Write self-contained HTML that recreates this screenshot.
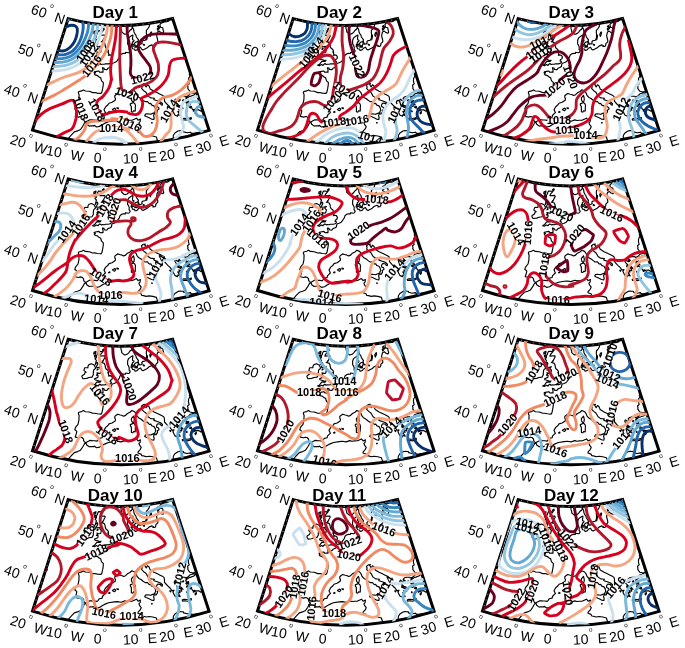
<!DOCTYPE html><html><head><meta charset="utf-8"><title>Daily SLP maps</title>
<style>html,body{margin:0;padding:0;background:#fff}svg{display:block}text{font-family:"Liberation Sans", Arial, Helvetica, sans-serif;fill:#000}.c path{fill:none;stroke-width:2.9;stroke-linecap:butt;stroke-linejoin:round}.cl text{font-weight:bold;font-size:11px;text-anchor:middle}.er path{stroke:#fff;stroke-width:3.4;fill:none}.co{fill:none;stroke:#000;stroke-width:1.15;stroke-linejoin:round}</style></head><body>
<svg width="685" height="648" viewBox="0 0 685 648">
<defs><clipPath id="fr"><path d="M68.2 18.6A200 200 0 0 0 172.6 18.5L209.1 130.4A287 287 0 0 1 32.5 130.1Z"/></clipPath>
<mask id="frm" maskUnits="userSpaceOnUse" x="0" y="0" width="240" height="170"><path d="M68.2 18.6A200 200 0 0 0 172.6 18.5L209.1 130.4A287 287 0 0 1 32.5 130.1Z" fill="none" stroke="#fff" stroke-width="4"/></mask>
<g id="coast" class="co"><path d="M91.5 43.1L94.1 44.3L95.3 46.5L95.4 47.8L93.7 49.2L93.3 52.1L93.3 54.1L92 56.4L88.9 56.8L86.7 57.7L83 58.1L81.9 56L82.1 55L84.4 53.6L85.2 51.6L86.2 51.4L83.8 49.7L84.8 47L87.9 47.1L88 45.4L89 43.9Z"/><path d="M98.6 30.6L103 30.9L100.5 33.8L99.9 35.4L104.8 35L105.2 36.3L104.4 37.5L103.3 39.9L102.6 40.2L103 40.9L101.3 41.8L104 42.4L105 44.2L105.3 46.3L105.9 48L107.5 49.3L108.2 50.2L108.6 52.3L107.8 51.8L108.9 54.4L108.4 55.3L109.4 54.9L111.4 55.2L112.4 57L112 58.6L110.4 59.8L110.1 61L111.3 61.4L111.3 62.5L110.1 63.4L108.3 63.9L105.6 63.8L104.2 64.3L102.4 64.2L101.2 64.5L99.9 63.5L98.5 64.6L98 65.4L96.6 64.6L94.3 65.8L92.6 65.3L94.6 64.2L96 62.3L97 61.2L100.1 61.5L101 60.3L99.7 60.6L97.7 59.8L95 59.1L94.6 58L97.8 56.7L98 55.9L98 54.3L96.4 54.5L97.5 53.4L97 52.1L98.9 52.7L100.7 52.5L101.1 50.5L101.5 49.5L99.9 47.9L100.6 46.3L101.4 46.2L100.1 46.4L98.1 46.8L96.8 46.9L96.6 45.4L97.8 43.5L97.5 41.8L96.6 42.1L95.3 44L96 41.2L96.4 39.6L95 38.1L96.3 37L96.3 35.3L97.4 33.4L97.8 32Z"/><path d="M96 30.7L95.7 32.7L93.8 33.3L93.9 31.6Z"/><path d="M95.3 34L96.4 36.2L94.8 36.4L94.3 34.9Z"/><path d="M102.5 29.3L103.9 28.2L104.2 29.5L103.1 30.2Z"/><path d="M98 48.1L98.1 48.9L97 49.4L97.2 48.6Z"/><path d="M120.8 24.7L120.8 26L121.1 28.9L121.7 30.6L121.7 31.9L124 33.9L125 34.3L127.1 33.6L128.7 32.1L130.4 29.9L131.6 29.4L132.2 27.7L132.2 26L132.6 27.6L133.6 29.2L134 32.1L135.1 34.2L135.8 34.9L136.4 37L137.8 38.9L138.5 39.9L138 41L138.5 42.2L139.2 43.8L139 44.3L141.1 43.9L142.2 43.2L141.8 41.8L142.8 40.7L144.9 40.4L145.7 39.7L146.4 37.9L146.6 34.5L146.3 32.8L146.4 30.3L147.7 28.8L148.4 27.9L149.4 26L149.7 24.2L149.2 22.2"/><path d="M146.7 39.9L147 37.4L147.5 35L147.4 36.9Z"/><path d="M150.3 36.4L151.3 34.2L151.6 32L150.7 32.4L149.7 34.4Z"/><path d="M143.2 44.2L144.4 44.6L144.3 45.3L143.3 45Z"/><path d="M131.7 44.4L133.8 44.3L134.2 45.9L132.5 46.2Z"/><path d="M134.4 43.4L136 42L138 41.6L138.2 43.5L137.4 45.2L137 46.3L135.1 45.4Z"/><path d="M134.7 47.1L137.1 47.3L137.5 46.4L135.9 46.4Z"/><path d="M157.8 30.3L160 27.3L158.5 27.4L157.2 28.8Z"/><path d="M157.4 26.6L159.2 26.4L158.3 25.5Z"/><path d="M156.8 20.7L158.3 22.4L158.8 20.2"/><path d="M170.9 16.9L170.3 18.4L168.7 19.8L168.9 21L166.9 21.8L164.3 21.9L162.3 22.8L160.7 23.6L159.9 24.7L160.5 27.2L162.8 27.7L163 29.6L163.7 32L163 33.2L161 32.6L159.3 31.1L157.5 32.1L157.1 33.5L156.6 35.7L157.3 38.5L157.7 40.1L157.8 41.8L155.8 43.7L155.8 45.1L154.9 46.4L152.9 46.5L153.3 45.6L151.9 44.9L149 46.1L147.3 47.8L143.9 49.5L143 50L141.7 49.3L140.5 47.2L138.4 48.2L137.6 49.5L136.2 50.3L135 50.4L134.6 49L132.4 48.7L132.1 47.3L131.1 46.5L131.5 44.4L132.1 44L132.5 41.9L133.6 41.6L134 40.3L132.6 39.8L132.5 38.3L132.8 36.4L132.9 35L131.4 35.7L128.6 37.9L127.7 40L127.6 42.5L127.7 44.2L128.4 45L129.2 47L129.1 49.5L129.9 50.3L130.2 51.1L129 52.6L128.3 52.8L125.6 52.3L125.4 53.5L123.4 53.4L121.5 54L120 55.3L119.3 57.5L118.2 59.1L117 60.8L116.2 61.8L114.1 62.8L112.3 63.3L111.7 64.3L111.5 66.3L110.3 67.3L107.9 68.2L107.6 69L106.5 69.8L104.4 69.4L104 68L102.4 67.7L103 69.9L103 72.2L101.8 72.1L99.9 72.3L98.9 71L96.7 71.4L94.3 71.9L94.1 72.5L95.5 72.9L94.3 73.8L95.1 74.9L97.6 75.6L98.4 76.5L99.9 77.4L100.7 77.7L101.1 79.6L101.6 80.8L103.3 82.4L103.3 84.6L102.7 88.4L101.9 92.2L101 93.4L100.6 93.4L97.4 93.1L94.7 92.5L92.7 92.6L89.3 91.3L85.4 91L83.5 89.9L81.6 90.9L78.8 91.6L78.3 92.6L79.1 94.8L79 96.8L78.9 99.7L78 103.6L75.5 106.7L74.8 109L75.7 109.6L76.8 110.7L76.4 112.7L75.2 116.4L78.7 117.1L80.4 116.5L82 116.8L83.6 118.5L83.6 119.8L84.4 121.2L85.6 122.1L86.5 121.6L89.9 119.7L92.5 119.9L94.8 120L97.1 120.4L98.2 119.3L99.3 117.7L102.2 117.1L102.4 115.5L104.4 113.4L105.4 112.6L104 109.7L105.7 106.7L108 104.8L109 103.2L112.1 102.3L115.2 100.2L115.5 98.6L114.8 97.5L114.8 95.7L116.2 94.5L117.7 93.5L120.2 94.3L121.7 94.5L123.6 95.5L125.6 94.7L127.4 92.8L130 91.5L131.9 89.8L134.6 91L136.2 93.2L137.1 95.5L138.9 97.4L141.1 98.5L142.8 100L145.1 101.6L147.5 101.5L148.6 103L149.8 103.7L150.8 103.4L151.7 105.1L154 105.9L155.2 107.9L155.8 110.3L155 111.3L154.8 113.3L154.9 114L156.2 113.9L157.5 111.7L157.4 110.1L159 109L158.6 107.4L156.6 106.5L156.6 104.9L157.4 103.3L158.4 103.1L160.6 103.6L161.1 104.8L162.2 105.2L162.5 103.7L160.6 102L157.3 100.8L154 99.7L153.7 99.1L154.4 98.2L152.3 98L150.7 97.9L148.1 96.1L145.9 92.3L143.7 90.7L141.7 88.7L142.1 86.8L141.4 85.4L143.5 83.8L145.4 83.6L144.7 84.5L146.2 87L147.4 84.8L148.9 85.8L150.2 88.9L154.1 91.3L157.9 93.1L159.6 93.9L162.9 95.6L164 96.4L164.5 98.6L164.5 101.3L166.9 104L168.1 105.2L170.3 107.2L171.9 109.6L174 109.2L172.9 111.1L174.3 113.9L175.1 115.2L177.5 116.2L177.9 114.6L180.2 115.6L179 113.5L177.8 111.5L180.1 111.6L178.8 109.6L181.8 110.2L181.1 108L178.5 106.9L176.7 106.3L177 104.4L178.2 104.7L175.5 102.2L174.7 100.1L175.6 99.2L177 100.6L178.6 101.3L178.2 99.9L179.4 101.1L178.9 99.5L180.4 100L178.1 98.2L179.6 96.8L182 96.2L184.6 96.2L185.4 97L187.2 96.3L186 99L186.7 97.1L188.5 95.5L190 93.8L192 93.2L193.2 92.9L193.3 92L189.9 91.3L188.8 89.9L187.7 88.2L188 87.2L187.5 85.3L189.2 83.9L188.7 82.3L188.4 80.7L188.7 78.1L190.1 76L189.3 74.5L190.9 72.7"/><path d="M196.8 91.1L193.3 92L193.2 92.9L196.1 93L193.9 95L190.9 96.1L188.9 96.7L187.3 98L186.4 98.4L185.9 99.4L186.3 101.4L188.7 100.6L188.6 102.7L190.1 104.6L188.1 104.3L188.2 106L191.3 106.4L192 108.7L193 109.9L194.9 109.4L193.3 111.1L196 109.9L198.7 109.7L200.9 111.2L202.9 109.9"/><path d="M68 141.1L68.3 139.5L68.8 137.9L71 135.3L74.3 131.9L77.6 130.9L80.5 129.5L82.7 126.3L84 124L84.5 122.8L86.2 122.6L86.7 124.3L89.2 126.1L90.9 125.8L93.9 125.9L94.2 125.3L96.5 127L99.6 126.4L102.1 124.7L104.5 123.4L108.5 121.8L114.3 120.9L117.4 120.6L121 121.2L124.9 119.9L126.9 120.5L129.7 120.2L132.5 120.1L136.5 118.2L138.1 120.2L140.4 119.1L140.1 121.7L138.9 122.8L139.5 124.4L141.2 126.7L140.2 128.9L138.1 131.1L138 132.3L141 133.4L141.8 135L143.6 135.2L146.1 136L149.2 135.5L152.8 136L156.4 137L157.3 140L158.7 141.1L161.8 142.3"/><path d="M174.2 140.7L173.9 139L173.2 137.5L173.4 135.3L174.9 133.1L178 131L180.1 130.6L181.7 130.8L183.4 130.9L183.6 131.9L187.1 132.8L190.5 132.2L191.4 133.4L194.4 133.1L198.7 132.5L201.4 132.9L203.8 133.4"/><path d="M112.4 109.5L114.7 108.1L115.8 109.1L114.7 110.7L113.4 110.3Z"/><path d="M116.9 107.7L118.5 108.1L118.2 108.7L117.1 108.3Z"/><path d="M108.6 112L109.8 111.4L109.9 112.2L108.9 112.4Z"/><path d="M131.4 97.9L133.5 95.4L133.9 96.8L134.3 99L134 101L133.4 102L132.2 101.3L131.5 99.7Z"/><path d="M130.3 103.9L133.5 102.5L134.9 103.8L135.5 105.4L135.3 107.5L135.3 110.3L135.1 111.2L133.6 110.8L132.9 112.1L131.4 111.8L131.4 109.7L131.4 108.1L131.2 106.1L130.4 105.3Z"/><path d="M144.7 115.7L145.5 114.1L147.4 113.8L150.6 114.3L152.7 113.4L154.6 112.7L153.6 115.6L154.2 117.8L153.8 119.5L151.5 119.1L148.6 117.6L146.2 116.5Z"/><path d="M182.2 119.1L183.9 118.3L187.4 118.5L189.6 118.1L191.3 117.6L191.3 118.9L187.5 120.2L185.3 119.8L182.6 120.1Z"/><path d="M177.3 106L178.5 105.3L181 106.1L183.1 108.3L181.7 107.9L179.5 107.1Z"/><path d="M185.8 102.6L187.2 101.4L188.2 102.6L186.8 103.2Z"/><path d="M186.6 105.1L187.4 104.9L187.6 106.3L186.9 106.3Z"/><path d="M189.6 107.5L191 107.3L190.4 107.9Z"/><path d="M194.9 113L196.3 111.3L196.3 113L195.5 113.9Z"/><path d="M182.4 100.3L183.7 99.8L183.6 100.6L182.7 100.9Z"/><path d="M186.5 110.9L187.2 111.1L187 111.8L186.5 111.5Z"/><path d="M169.7 109.9L171 109.8L170.5 110.9Z"/><path d="M151.5 122.6L152.4 122.7L151.9 123.1Z"/></g>
<g id="ticks"><text transform="translate(27.4 149.1) rotate(17.3)" x="0" text-anchor="middle" font-size="14">20<tspan dy="-12" dx="1" font-size="6.5">o</tspan><tspan dy="12" dx="0.6"> W</tspan></text><text transform="translate(64.2 158.2) rotate(10.4)" x="0" text-anchor="middle" font-size="14">10<tspan dy="-12" dx="1" font-size="6.5">o</tspan><tspan dy="12" dx="0.6"> W</tspan></text><text transform="translate(101.7 162.7) rotate(3.5)" x="-2" text-anchor="middle" font-size="14">0<tspan dy="-12" dx="1" font-size="6.5">o</tspan><tspan dy="12" dx="0.6"></tspan></text><text transform="translate(139.5 162.7) rotate(-3.5)" x="0.8" text-anchor="middle" font-size="14">10<tspan dy="-12" dx="1" font-size="6.5">o</tspan><tspan dy="12" dx="0.6"> E</tspan></text><text transform="translate(177 158.2) rotate(-10.4)" x="0" text-anchor="middle" font-size="14">20<tspan dy="-12" dx="1" font-size="6.5">o</tspan><tspan dy="12" dx="0.6"> E</tspan></text><text transform="translate(213.8 149.1) rotate(-17.3)" x="0" text-anchor="middle" font-size="14">30<tspan dy="-12" dx="1" font-size="6.5">o</tspan><tspan dy="12" dx="0.6"> E</tspan></text><text transform="translate(63 24.5) rotate(19)" text-anchor="end" font-size="14">60<tspan dy="-12" dx="1" font-size="6.5">o</tspan><tspan dy="12" dx="0.6"> N</tspan></text><text transform="translate(49.8 63.9) rotate(19)" text-anchor="end" font-size="14">50<tspan dy="-12" dx="1" font-size="6.5">o</tspan><tspan dy="12" dx="0.6"> N</tspan></text><text transform="translate(36 104) rotate(19)" text-anchor="end" font-size="14">40<tspan dy="-12" dx="1" font-size="6.5">o</tspan><tspan dy="12" dx="0.6"> N</tspan></text></g>
<g id="frame"><path d="M68.2 18.6A200 200 0 0 0 172.6 18.5L209.1 130.4A287 287 0 0 1 32.5 130.1Z" fill="none" stroke="#000" stroke-width="3" stroke-linejoin="miter"/><path d="M68.2 18.6A200 200 0 0 0 172.6 18.5" fill="none" stroke="#fff" stroke-width="0.7" stroke-dasharray="0.9 5.1" stroke-dashoffset="-3"/><path d="M68.2 18.6L32.5 130.1" fill="none" stroke="#fff" stroke-width="0.7" stroke-dasharray="0.9 5.1" stroke-dashoffset="-3"/></g>
</defs>
<rect width="685" height="648" fill="#fff"/>
<g transform="translate(0 0)">
<use href="#ticks"/>
<text x="115.2" y="17.5" text-anchor="middle" font-weight="bold" font-size="17">Day 1</text>
<g clip-path="url(#fr)">
<use href="#coast"/>
<g class="c" id="c1"><path stroke="#08306b" d="M64.5 27.2C65.6 26.9 69.2 25.5 71.1 25.3C72.9 25.1 74.4 25.4 75.4 26C76.5 26.6 77.1 27.5 77.3 29.1C77.6 30.6 77.2 33.2 76.8 35.2C76.3 37.3 75.5 39.5 74.6 41.3C73.6 43.2 72.4 44.8 71.1 46.2C69.8 47.5 68.1 48.9 66.7 49.7C65.2 50.5 63.9 50.9 62.3 51C60.7 51 58 50.1 57.2 50"/><path stroke="#2166ac" d="M82.9 20.8C82.9 22 83.3 25.7 83.2 28.1C83 30.4 82.6 32.7 82 35.1C81.4 37.4 80.5 39.9 79.4 42.1C78.3 44.3 77 46.5 75.4 48.2C73.9 50 72.1 51.5 70.2 52.6C68.3 53.7 66.5 54.4 64.1 54.8C61.6 55.1 57.1 54.8 55.7 54.8"/><path stroke="#3587c4" d="M88.9 21.9C88.7 23.4 88.4 28.1 87.9 30.7C87.3 33.3 86.5 35.4 85.5 37.7C84.5 40 83.4 42.5 82 44.7C80.6 46.9 79 49.2 77.2 51.1C75.4 53 73.3 54.9 71.1 56.1C68.9 57.3 66.8 58 64.1 58.4C61.3 58.9 56.3 58.7 54.7 58.7"/><path stroke="#62a8d3" d="M93.5 22.9C93.3 24.5 92.6 29.5 91.8 32.4C91 35.3 89.8 37.8 88.6 40.3C87.3 42.9 85.8 45.3 84.2 47.6C82.6 49.9 81 52.1 78.9 54C76.9 56 74.4 58 71.9 59.3C69.5 60.6 67.1 61.4 64.1 61.9C61 62.5 55.5 62.4 53.8 62.5"/><path stroke="#92c5e0" d="M98.2 23.7C97.8 25.4 96.9 31.1 95.9 34.2C94.9 37.3 93.7 39.7 92.2 42.4C90.8 45 89.1 47.8 87.3 50.2C85.4 52.7 83.5 54.9 81.1 57C78.8 59.1 76.1 61.3 73.3 62.8C70.4 64.3 67.5 65.1 64.1 65.7C60.7 66.4 54.7 66.6 52.8 66.7"/><path stroke="#c9e0ef" d="M102.6 24.4C102.2 26.3 101.2 32.2 100.1 35.5C99 38.8 97.7 41.3 96.2 44.1C94.6 46.9 93 49.7 90.9 52.3C88.9 54.9 86.6 57.5 83.9 59.9C81.3 62.2 78.2 64.7 75 66.3C71.8 68 68.4 69 64.5 69.8C60.6 70.6 53.5 70.9 51.4 71.1"/><path stroke="#3587c4" d="M66.2 20L69.6 19.3"/><path stroke="#f4a582" d="M107.7 25.1C107.5 26.6 107.1 31 106.4 33.9C105.7 36.8 104.6 39.7 103.5 42.7C102.4 45.6 101.3 48.6 99.8 51.4C98.4 54.2 96.7 57 94.7 59.4C92.8 61.9 90.7 64.2 88.1 66.3C85.6 68.4 82.3 70.7 79.4 72.1C76.5 73.6 73.5 74.1 70.6 75.1C67.7 76 64.5 76.9 61.9 78C59.2 79 57.3 80.1 54.6 81.3C51.8 82.6 47 84.6 45.5 85.3"/><path stroke="#ef8a62" d="M112.1 25.1C111.9 26.8 111.6 32.2 111.1 35.4C110.5 38.5 109.7 41.3 108.7 44.1C107.8 46.9 106.8 49.6 105.5 52.1C104.3 54.7 102.8 57.1 101.1 59.4C99.5 61.8 97.7 64 95.6 66.3C93.5 68.6 91.2 71.2 88.7 73.3C86.2 75.5 83.5 77.3 80.7 79.2C77.9 81.1 74.9 82.9 71.9 84.7C69 86.5 66.3 88.2 63.2 90.1C60 92 56.8 94 53 95.9C49.2 97.9 42.5 100.8 40.4 101.8"/><path stroke="#d6001f" d="M116.5 25.1C116.3 27.1 116.2 32.9 115.7 36.8C115.3 40.7 114.4 44.8 113.7 48.5C113 52.1 112.2 55.1 111.6 58.7C111.1 62.4 110.6 66.7 110.6 70.4C110.6 74 111.5 78.9 111.6 80.6"/><path stroke="#d6001f" d="M111.5 77.9C111.3 79.1 110.7 83.1 110 85.2C109.4 87.3 108.8 88.4 107.6 90.3C106.3 92.3 104.1 95.2 102.5 96.9C100.8 98.6 98.8 99.2 97.8 100.5C96.8 101.9 96.4 103 96.6 104.9C96.8 106.9 97.6 110.5 98.8 112.2C100 113.9 102.1 114.8 103.9 114.8C105.7 114.9 107.3 113.3 109.8 112.6C112.2 112 115.5 111.3 118.5 111.2C121.6 111.1 126.4 112 128 112.2"/><path stroke="#d6001f" d="M128.1 112.2C128.3 112.4 128.1 113.3 129.5 113.7C131 114 134.9 115 136.8 114.4C138.8 113.8 140.2 112 141.2 110C142.2 108.1 142.7 104.6 142.7 102.7C142.7 100.8 140.5 99.8 141.2 98.6C141.9 97.4 144.6 96.8 147 95.4C149.5 94 153.1 92.3 155.8 90.3C158.5 88.4 161 86.3 163.1 83.7C165.2 81.2 167.1 78.1 168.2 75C169.3 71.8 169 67.2 169.7 64.8C170.3 62.3 170.8 61.4 172.1 60.4C173.5 59.4 175.1 59 177.7 58.6C180.3 58.2 186.2 58.1 187.9 58"/><path stroke="#d6001f" d="M33.1 123.2C34.4 121.7 38.3 116.8 41.1 114.4C43.9 112 46.5 110.3 49.9 108.6C53.3 106.9 57.9 105.6 61.6 104.2C65.2 102.8 69.6 100.1 71.8 100.1C74 100.1 74.2 101.8 75 104.2C75.8 106.6 76.7 111.2 76.6 114.4C76.6 117.6 75.5 120.7 74.7 123.2C73.9 125.6 73.5 127.4 71.8 129C70.1 130.6 67.2 131.3 64.5 132.6C61.8 134 57.2 136.4 55.7 137.2"/><path stroke="#b2182b" d="M120.4 24.4C120.4 27.2 120.3 36 120.1 41.2C120 46.4 119.7 50.9 119.7 55.8C119.7 60.7 120 66 120.1 70.4C120.3 74.8 120.4 78.8 120.7 82.1C121.1 85.4 120.8 88.2 122.2 90.1C123.6 92 127.1 94.1 129.2 93.8C131.3 93.4 132.6 89.4 135 87.9C137.5 86.5 140.9 86.2 143.8 85C146.7 83.8 150.2 82.3 152.6 80.6C154.9 78.9 156.7 77.5 157.7 74.8C158.6 72.1 158.8 67.7 158.4 64.6C158 61.4 156.3 58.5 155.5 55.8C154.6 53.1 153.2 50.6 153.3 48.5C153.4 46.4 154.6 44.5 156.2 43.4C157.8 42.3 160.2 42 162.8 41.9C165.3 41.9 168.1 42.3 171.5 42.9C174.9 43.6 181.3 45.1 183.2 45.6"/><path stroke="#67001f" d="M127 24.4C127.1 26 127.1 30.6 127.4 33.9C127.8 37.2 128.7 40.7 129.2 44.1C129.7 47.5 130.4 50.9 130.7 54.3C130.9 57.7 131 61.4 130.9 64.6C130.9 67.7 130 71.2 130.4 73.3C130.7 75.4 130.9 76.1 132.8 77C134.8 77.8 139.5 78.8 142.3 78.4C145.1 78.1 148.3 76.6 149.6 74.8C151 72.9 150.9 69.7 150.4 67.5C149.9 65.3 148.1 63.6 146.7 61.6C145.4 59.7 143.7 57.7 142.3 55.8C141 53.8 139.3 51.8 138.7 50C138.1 48.1 138.2 46.5 138.7 44.8C139.2 43.1 140 41.3 141.6 39.7C143.2 38.2 145.6 36.3 148.2 35.4C150.7 34.4 153.8 34.1 156.9 33.9C160.1 33.7 163 33.8 167.2 33.9C171.3 34 179.3 34.3 181.8 34.3"/><path stroke="#ef8a62" d="M193.8 73.5C192.8 75.1 190.1 80.2 187.9 83C185.7 85.8 183.3 88.2 180.6 90.3C177.9 92.4 174.8 94.2 171.9 95.4C168.9 96.6 165.3 96.6 163.1 97.6C160.9 98.6 159.9 99.7 158.7 101.3C157.5 102.8 156.2 104.9 155.8 107.1C155.4 109.3 156.3 112 156.5 114.4C156.8 116.8 157.5 119 157.3 121.7C157 124.4 156.2 128.1 155.1 130.5C153.9 132.8 152.1 134.6 150.2 135.6C148.4 136.5 145.6 136.7 143.8 136C142 135.3 141.1 132.8 139.4 131.2C137.8 129.5 136 127.5 133.9 126.1C131.8 124.6 129.3 123.6 126.6 122.4C123.9 121.3 120.5 119.8 117.8 119.2C115.2 118.6 111.8 118.8 110.5 118.8"/><path stroke="#ef8a62" d="M128 118.8C126.4 119 122 120 118.5 120.2C115 120.5 110.2 120.1 106.8 120.2C103.4 120.4 100.7 120.7 98.1 121C95.4 121.2 92.7 121.1 90.8 121.7C88.8 122.3 87.5 123.2 86.4 124.6C85.3 126.1 85.4 128.4 84.2 130.5C83 132.5 81 135.1 79.1 137C77.1 139 73.6 141.3 72.5 142.1"/><path stroke="#f4a582" d="M198.1 90.3C196.9 90.7 193.3 91.7 190.8 92.5C188.4 93.3 185.7 94 183.5 95.1C181.3 96.2 179.3 97.4 177.7 99.1C176.1 100.7 175.1 102.4 174 104.9C172.9 107.5 171.6 111.1 171.1 114.4C170.6 117.7 171.4 121.9 171.1 124.6C170.9 127.3 170.8 128.5 169.7 130.5C168.6 132.4 166.3 134.1 164.6 136.3C162.9 138.5 160.3 142.4 159.4 143.6"/><path stroke="#f4a582" d="M130.2 129.7C129 129.4 125.3 128.1 122.9 127.8C120.5 127.5 117.8 127.8 115.6 127.8C113.4 127.9 112.7 127.8 109.8 128.3C106.8 128.7 101 129.4 98.1 130.5C95.2 131.5 94.3 132.9 92.2 134.8C90.2 136.8 86.8 140.9 85.7 142.1"/><path stroke="#f4a582" d="M111.3 127.8C113.3 128 120.4 127.8 123.7 129C127 130.2 129 133 131 134.8C132.9 136.7 133.9 138.1 135.4 139.9C136.8 141.8 139 144.8 139.7 145.8"/><path stroke="#c9e0ef" d="M92.2 143.6C93.7 142.7 98.1 139.5 101 138.5C103.9 137.5 106.8 137.5 109.8 137.5C112.7 137.5 115.6 137.6 118.5 138.5C121.4 139.4 125.8 142.1 127.3 142.9"/><path stroke="#c9e0ef" d="M110.5 136.6C112 137 116.5 137.8 119.3 139.2C122.1 140.6 126 144.1 127.3 145.1"/><path stroke="#c9e0ef" d="M199.6 95.7C198.3 96.1 194.1 97.4 191.6 98.3C189 99.3 186 100.1 184.3 101.5C182.6 103 182 105 181.3 107.1C180.7 109.2 180.4 112 180.6 114.4C180.8 116.8 181.9 119.5 182.4 121.7C182.9 123.9 183.8 125.6 183.5 127.5C183.2 129.5 182 131.5 180.6 133.4C179.3 135.2 176.8 137 175.5 138.5C174.2 139.9 173.1 141.5 172.6 142.1"/><path stroke="#92c5e0" d="M201.8 102.4C200.3 102.3 195.3 101 193 101.4C190.8 101.8 189.3 102.8 188.2 104.8C187.1 106.7 186.1 110.4 186.2 112.9C186.2 115.5 187 118 188.5 120.2C190 122.4 192.8 123.9 195.2 126.1C197.7 128.2 201.9 131.9 203.2 133.1"/><path stroke="#62a8d3" d="M203.2 106.1C202.3 106.2 199.1 105.8 197.8 106.8C196.6 107.8 195.6 110.4 195.6 111.9C195.7 113.4 196.5 114.9 198.1 115.9C199.8 116.8 204.2 117.3 205.4 117.6"/></g>
<g class="er"><path d="M79.5 60.5L92.7 41.7"/><path d="M82.7 65.2L95.9 46.4"/><path d="M85.2 75.4L99.3 57.2"/><path d="M76 97.9L84.6 119.2"/><path d="M90.9 99.9L101.7 120.2"/><path d="M131.5 81.4L153.7 75.4"/><path d="M116.1 90.9L137.9 98"/><path d="M118.4 119L139.2 128.7"/><path d="M99.7 128.7L122.7 128.7"/><path d="M163.5 121.1L175 101.2"/></g>
</g>
<use href="#frame"/>
<g clip-path="url(#fr)"><g mask="url(#frm)"><use href="#c1"/></g>
<g class="cl"><text transform="translate(86.1 51.1) rotate(-55)" y="3.3">1008</text><text transform="translate(89.3 55.8) rotate(-55)" y="3.3">1012</text><text transform="translate(92.2 66.3) rotate(-52)" y="3.3">1016</text><text transform="translate(80.3 108.6) rotate(68)" y="3.3">1018</text><text transform="translate(96.3 110) rotate(62)" y="3.3">1018</text><text transform="translate(142.6 78.4) rotate(-15)" y="3.3">1022</text><text transform="translate(127 94.5) rotate(18)" y="3.3">1020</text><text transform="translate(128.8 123.9) rotate(25)" y="3.3">1016</text><text transform="translate(111.2 128.7) rotate(0)" y="3.3">1014</text><text transform="translate(169.2 111.2) rotate(-60)" y="3.3">1014</text></g>
</g>
</g>
<g transform="translate(225 0)">
<use href="#ticks"/>
<text x="114.3" y="17.5" text-anchor="middle" font-weight="bold" font-size="17">Day 2</text>
<g clip-path="url(#fr)">
<use href="#coast"/>
<g class="c" id="c2"><path stroke="#08306b" d="M82.3 20C82.3 21.4 82.7 25.9 82.3 28.1C81.9 30.2 81.1 31.8 79.8 33.2C78.6 34.5 76.5 35.5 74.7 36.1C72.9 36.6 70.7 36.9 68.9 36.5C67.1 36.2 65.1 34.6 63.8 33.9C62.4 33.2 61.3 32.4 60.8 32.1"/><path stroke="#2166ac" d="M87.3 21.1C87.1 22.5 87 27.1 86.4 29.5C85.8 31.9 84.8 33.7 83.5 35.4C82.1 37.1 80.3 38.7 78.4 39.7C76.4 40.8 74 41.2 71.8 41.5C69.6 41.7 67.3 41.5 65.2 41.2C63.2 40.9 60.4 40 59.4 39.7"/><path stroke="#3587c4" d="M90.9 21.9C90.7 23.4 90.4 28.4 89.6 31C88.9 33.6 87.9 35.6 86.4 37.5C84.9 39.5 82.7 41.4 80.6 42.7C78.4 43.9 75.8 44.7 73.3 45.3C70.7 45.8 67.8 45.9 65.2 45.9C62.7 45.8 59.1 45.1 57.9 45"/><path stroke="#62a8d3" d="M94.6 22.7C94.3 24.3 93.9 29.6 93 32.4C92 35.3 90.7 37.5 89 39.7C87.3 41.9 85.1 44.1 82.7 45.6C80.4 47.1 77.5 48 74.7 48.8C71.9 49.6 69 50 66 50.2C62.9 50.5 58 50.2 56.5 50.2"/><path stroke="#92c5e0" d="M97.9 23.4C97.6 25.1 97 30.8 95.9 33.9C94.8 37 93.3 39.5 91.5 41.9C89.7 44.3 87.5 46.5 84.9 48.2C82.4 49.9 79.2 51.1 76.2 52.1C73.1 53.2 70.2 53.9 66.7 54.3C63.2 54.8 57 54.8 55 54.9"/><path stroke="#c9e0ef" d="M101.1 24C100.7 25.9 99.9 32 98.8 35.4C97.7 38.7 96.4 41.6 94.4 44.1C92.5 46.7 89.9 48.8 87.1 50.7C84.3 52.6 80.9 54.2 77.6 55.5C74.4 56.8 71.4 57.7 67.4 58.4C63.4 59.1 55.9 59.5 53.5 59.7"/><path stroke="#f4a582" d="M106.5 23.7C106.1 25.4 105 31.1 103.9 33.9C102.9 36.7 101.8 38.3 100.3 40.5C98.7 42.7 96.7 44.5 94.4 47C92.1 49.6 89.4 53.2 86.4 55.8C83.4 58.4 79.6 59.9 76.2 62.4C72.8 64.8 69.4 67.7 66 70.4C62.5 73.1 59.4 75.5 55.7 78.4C52.1 81.3 46 86.3 44.1 87.9"/><path stroke="#d6001f" d="M111.6 24C111.1 26.1 110 33.1 108.6 36.8C107.1 40.5 105.1 43.4 103 46.3C100.9 49.2 99 51.5 96 54.3C93 57.1 88.7 60.2 84.9 63.1C81.2 66 77.4 68.7 73.5 71.9C69.7 75 65.6 78.7 61.9 81.8C58.2 84.9 54.9 87.6 51.4 90.5C47.8 93.5 42.2 98.1 40.4 99.6"/><path stroke="#b2182b" d="M101 55.3C102.7 55.1 104.6 54.9 106.1 56C107.6 57.1 108.9 59.3 109.8 61.7C110.6 64.1 111.3 67.3 111.4 70.5C111.5 73.6 110.8 77.3 110.3 80.7C109.8 84.1 108.9 87.7 108.3 90.9C107.7 94.1 107.7 97.4 106.8 99.8C106 102.2 104.5 104.4 103.2 105.3C101.8 106.3 100.6 105.9 98.8 105.3C97 104.8 94.7 102.4 92.2 101.8C89.8 101.3 86.5 101.6 84.2 102.1C81.9 102.7 79.8 103.8 78.2 105.1C76.6 106.3 75.6 108 74.7 109.7C73.8 111.5 73.6 113.6 73 115.6C72.3 117.5 71.7 119.6 70.6 121.4C69.6 123.2 68.2 124.8 66.5 126.1C64.9 127.3 63 128.1 60.7 129C58.4 129.9 55.3 130.5 52.5 131.3C49.8 132.1 46.6 133.7 44.4 133.7C42.1 133.7 40.2 132.6 39.1 131.3C38 130.1 37.6 128.1 37.9 126.1C38.2 124 39.6 121.6 40.8 119.1C42.1 116.5 43.8 113.8 45.5 110.9C47.3 108 49.2 104.5 51.4 101.5C53.5 98.6 55.8 96.1 58.4 93.4C60.9 90.6 63.8 87.9 66.5 85.2C69.3 82.5 72.1 79.7 74.7 77C77.3 74.3 79.6 71.4 82 68.8C84.4 66.3 87 63.8 89.3 61.8C91.6 59.9 93.9 58.3 95.9 57.2C97.8 56.1 99.3 55.5 101 55.3Z"/><path stroke="#67001f" d="M89.3 73.5C89.8 73.1 94 72.6 94.4 72.8C94.9 73 95.9 75.8 95.9 76.4C95.8 77.1 94.1 82.4 93.7 83C93.3 83.6 90.5 85.8 90 85.9C89.6 86 86.6 85 86.4 84.5C86.2 84 86.9 79.4 87.1 78.6C87.3 77.9 88.8 73.9 89.3 73.5Z"/><path stroke="#b2182b" d="M117.5 23.7C117.5 26.6 116.9 35.8 117.1 41.2C117.3 46.5 118.4 51.4 118.6 55.8C118.7 60.2 118.3 64.1 117.8 67.5C117.4 70.9 116.1 73.5 115.6 76.2C115.2 78.9 115.1 81.6 115.3 83.7C115.5 85.8 116.4 87.5 117.1 88.8C117.7 90.2 118.3 91.5 119.3 91.8C120.3 92.1 121.2 91.3 122.9 90.7C124.7 90.2 126.7 89.5 129.5 88.4C132.3 87.4 136.6 86.2 139.7 84.5C142.9 82.7 146.2 80.7 148.5 77.9C150.8 75.1 152.4 70.9 153.6 67.7C154.8 64.5 154.9 61.9 155.8 58.7C156.6 55.5 157.3 51.4 158.7 48.5C160.2 45.6 163 43.6 164.6 41.2C166.1 38.8 167.8 36.3 168.2 33.9C168.6 31.5 167.7 28.5 166.7 26.6C165.8 24.7 163.1 22.9 162.4 22.2"/><path stroke="#67001f" d="M125.1 24.4C124 26 123.9 30.6 124 33.9C124 37.2 124.7 40.8 125.4 44.1C126.2 47.4 127.5 50.7 128.4 53.6C129.2 56.5 130 58.8 130.4 61.6C130.8 64.4 130.3 68 130.7 70.4C131 72.8 131.5 75.1 132.4 76.2C133.3 77.4 134.7 77.5 136.1 77.4C137.4 77.3 139.3 76.7 140.5 75.5C141.7 74.3 142.6 72.9 143.4 70.4C144.2 67.8 144.4 63.6 145.3 60.2C146.1 56.8 147.4 53.4 148.5 50C149.6 46.5 151.3 42.9 152.1 39.7C153 36.6 154.2 32.9 153.8 31C153.3 29 151.8 29 149.2 28.1C146.6 27.2 141.3 26.2 138.3 25.6C135.2 25 133.2 24.7 131 24.6C128.8 24.4 126.3 22.9 125.1 24.4Z"/><path stroke="#d6001f" d="M184.3 44.8C182.4 45.8 176 48.9 173.3 50.7C170.6 52.5 169.5 53.5 168.2 55.8C166.9 58.1 166.4 61.6 165.3 64.6C164.2 67.5 163.2 70.4 161.6 73.3C160.1 76.2 158.2 79.4 155.8 82.1C153.4 84.7 150 87.1 147 89.4C144.1 91.7 140.7 93.9 138.3 95.9C135.8 97.9 134.1 99.6 132.4 101.3C130.7 103.1 130 104.6 128.1 106.4C126.1 108.2 122.9 110.6 120.8 112.2C118.6 113.8 116 114.6 114.9 116.1C113.9 117.7 115.5 120.3 114.4 121.4C113.4 122.5 111 122.6 108.6 122.8C106.1 123.1 102 123.1 99.8 122.8C97.6 122.6 96.9 122.5 95.4 121.1C94 119.7 92.7 115.5 91.1 114.4C89.4 113.2 86.9 112.9 85.5 114.1C84.1 115.3 83.2 119.6 82.6 121.4C82 123.1 82.4 123 81.7 124.6C81 126.2 80.3 129.3 78.4 131.2C76.5 133.1 73.3 134.8 70.3 136C67.4 137.2 62.4 138.2 60.8 138.6"/><path stroke="#f4a582" d="M187.2 55.3C185.8 57.3 181.2 64.2 179.2 67.7C177.1 71.2 176.2 73.6 174.8 76.4C173.3 79.2 172.6 82.2 170.4 84.5C168.2 86.8 164.6 88.4 161.6 90.3C158.7 92.3 155.2 94.1 152.9 96.1C150.6 98.2 149 100.2 147.8 102.7C146.5 105.3 146.3 108.9 145.6 111.5C144.8 114 144.4 116.6 143.4 118C142.3 119.5 141.1 119.4 139.2 119.9C137.3 120.5 135.3 120.9 131.9 121.4C128.5 121.9 122.2 122.4 118.8 123C115.4 123.6 114.4 124 111.5 125C108.6 126.1 104.7 127.7 101.3 129.4C97.9 131.1 94.7 132.8 91.1 135.3C87.4 137.7 81.3 142.6 79.4 144"/><path stroke="#c9e0ef" d="M190.8 67.7C189.9 69.4 186.7 74.6 185 77.9C183.3 81.2 182.3 84.6 180.6 87.4C178.9 90.2 177 92.6 174.8 94.7C172.6 96.8 169.7 98 167.5 99.8C165.3 101.6 163.2 103.2 161.6 105.6C160.1 108.1 158.5 111.5 158 114.4C157.5 117.3 158.2 120.2 158.7 123.2C159.2 126.1 160.8 129.4 160.9 131.9C161.1 134.4 159.9 136.2 159.6 138.2C159.3 140.1 159.1 142.7 159 143.6"/><path stroke="#c9e0ef" d="M89.6 144C91.3 142.6 96.4 137.6 99.8 135.3C103.2 132.9 106.9 131.4 110 130.1C113.2 128.9 115.9 128.3 118.8 128C121.7 127.6 125.1 127.7 127.6 128.2C130 128.8 130.5 129.5 133.4 131.2C136.3 132.8 140.9 136.5 144.8 138.2C148.7 139.9 153.8 140.2 156.8 141.4C159.7 142.6 161.6 144.8 162.6 145.5"/><path stroke="#92c5e0" d="M199.6 89.6C198.1 89.8 193.3 90.2 190.8 91C188.4 91.9 186.8 93.2 185 94.7C183.2 96.1 181.5 98 179.9 99.8C178.3 101.6 176.8 103.6 175.5 105.6C174.2 107.7 172.7 109.5 171.9 112.2C171 114.9 170.3 118.7 170.4 121.7C170.4 124.7 172.4 127 172.1 130.5C171.9 133.9 169.5 140.2 168.9 142.1"/><path stroke="#92c5e0" d="M98.4 145.2C99.8 143.9 104.2 139.3 107.1 137.4C110 135.5 113 134.5 115.9 133.8C118.8 133.1 122 132.7 124.6 133.1C127.3 133.4 130 134.8 131.9 136C133.9 137.2 134.9 138.7 136.3 140.4C137.8 142.1 140 145.2 140.7 146.2"/><path stroke="#62a8d3" d="M201.1 94.7C199.3 94.9 193.5 95.2 190.8 96.1C188.2 97.1 186.5 98.7 185 100.5C183.5 102.4 182.7 104.8 182.1 107.1C181.5 109.4 181.2 112 181.3 114.4C181.5 116.8 182.4 119.3 182.8 121.7C183.2 124.1 183.8 126 183.5 129C183.3 132 181.8 138.1 181.5 139.9"/><path stroke="#62a8d3" d="M104.9 145.8C106.5 144.7 111.4 141 114.4 139.6C117.5 138.2 120.6 137.4 123.2 137.4C125.7 137.4 127.7 138.2 129.7 139.6C131.8 141.1 134.6 145.1 135.6 146.2"/><path stroke="#2166ac" d="M203.2 99.8C201.5 99.9 195.7 99.6 193 100.4C190.3 101.1 188.5 102.6 187.2 104.2C185.8 105.8 185.2 107.8 184.8 110C184.5 112.2 184.7 115.2 185.3 117.3C185.9 119.4 187.2 120.7 188.6 122.4C190.1 124.1 191.8 125.5 193.8 127.5C195.7 129.6 199.2 133.6 200.3 134.8"/><path stroke="#3587c4" d="M112.2 146.6C113.3 145.8 116.7 142.3 118.8 141.4C120.9 140.5 122.8 140.2 124.6 141.1C126.5 142 128.9 146 129.7 146.9"/><path stroke="#08306b" d="M205.4 106.1C204 106.1 198.7 105.7 196.7 106.4C194.6 107 193.8 108.4 193 110C192.3 111.6 191.9 114 192.3 115.9C192.7 117.7 193.8 119.6 195.2 121C196.7 122.3 198.4 123.2 201.1 123.9C203.7 124.6 209.6 125.1 211.3 125.3"/></g>
<g class="er"><path d="M81.6 57L96.4 39.4"/><path d="M76.8 66.4L91.6 48.7"/><path d="M109.8 84.1L128.7 97.3"/><path d="M100.9 110.6L115.1 92.5"/><path d="M97.5 124.3L120.3 121.1"/><path d="M120.6 122.9L143.3 119"/><path d="M133.8 134.8L155.8 141.5"/><path d="M166.3 121.9L176 101.1"/><path d="M126.8 55.6L136.6 76.4"/></g>
</g>
<use href="#frame"/>
<g clip-path="url(#fr)"><g mask="url(#frm)"><use href="#c2"/></g>
<g class="cl"><text transform="translate(89 48.2) rotate(-50)" y="3.3">1014</text><text transform="translate(84.2 57.5) rotate(-50)" y="3.3">1016</text><text transform="translate(119.2 90.7) rotate(35)" y="3.3">1020</text><text transform="translate(108 101.5) rotate(-52)" y="3.3">1020</text><text transform="translate(108.9 122.7) rotate(-8)" y="3.3">1018</text><text transform="translate(131.9 120.9) rotate(-10)" y="3.3">1016</text><text transform="translate(144.8 138.2) rotate(17)" y="3.3">1014</text><text transform="translate(171.1 111.5) rotate(-65)" y="3.3">1012</text><text transform="translate(131.7 66) rotate(65)" y="3.3">1022</text></g>
</g>
</g>
<g transform="translate(450 0)">
<use href="#ticks"/>
<text x="121.3" y="17.5" text-anchor="middle" font-weight="bold" font-size="17">Day 3</text>
<g clip-path="url(#fr)">
<use href="#coast"/>
<g class="c" id="c3"><path stroke="#2166ac" d="M76.9 20.5C77.8 20.8 80.3 22.3 82 22.5C83.7 22.7 86.3 21.8 87.1 21.6"/><path stroke="#62a8d3" d="M66.2 20C66.9 20.9 68.4 24 70 25.4C71.7 26.9 73.8 28.2 76.2 28.8C78.5 29.4 81.8 29.5 84.2 29.2C86.6 29 88.8 28.2 90.8 27.3C92.8 26.5 94.9 24.9 96.3 24C97.8 23.1 99 22.3 99.5 21.9"/><path stroke="#92c5e0" d="M63.8 28.8C64.9 29.4 68 31.5 70.3 32.4C72.6 33.4 75.2 34.4 77.6 34.6C80.1 34.9 82.5 34.5 84.9 33.9C87.4 33.3 90 32.1 92.2 31C94.4 29.9 96.4 28.5 98.1 27.3C99.8 26.2 101.7 24.5 102.5 24"/><path stroke="#c9e0ef" d="M61.6 36.5C62.8 36.9 66.4 38.5 68.9 39C71.3 39.5 73.5 39.9 76.2 39.7C78.9 39.6 82.3 39 84.9 38.3C87.6 37.5 89.8 36.7 92.2 35.4C94.7 34 97.2 32 99.5 30.2C101.8 28.5 105 25.7 106.1 24.8"/><path stroke="#f4a582" d="M59.4 42.9C60.5 43.5 63.6 45.6 66 46.3C68.3 47 70.8 47.3 73.3 47C75.7 46.8 77.9 46.1 80.6 44.8C83.2 43.6 85.9 41.8 89.3 39.7C92.7 37.7 98.1 34.4 101 32.4C103.9 30.5 104.9 29.4 106.8 28.1C108.8 26.7 111.7 25 112.7 24.4"/><path stroke="#f4a582" d="M49.6 67.5C50 68.2 52.2 70.4 52.2 71.9C52.3 73.3 50.3 75.5 49.9 76.2"/><path stroke="#d6001f" d="M120 24.8C118.8 25.7 115.3 28.4 112.7 30.2C110 32.1 107.3 33.7 103.9 36.1C100.5 38.5 96.9 41.3 92.2 44.8C87.6 48.4 80.3 54 76.2 57.3C72 60.5 70.3 61.9 67.4 64.6C64.5 67.2 61.3 70.5 58.7 73.3C56 76.1 53.8 78.8 51.4 81.3C48.9 83.9 45.3 87.4 44.1 88.6"/><path stroke="#b2182b" d="M127.3 24.4C126.7 25.7 125.2 30.4 123.6 32.4C122 34.5 120.6 35.1 117.8 36.8C115 38.5 110.4 40.3 106.8 42.7C103.3 45 100 47.5 96.6 50.7C93.2 53.8 89.6 58.4 86.4 61.6C83.2 64.9 80.8 67.7 77.6 70.4C74.5 73.1 70.8 75.3 67.4 77.7C64 80.1 60.4 82.6 57.2 85C54 87.4 51.4 89.8 48.4 92.3C45.5 94.8 41.1 98.7 39.7 100"/><path stroke="#67001f" d="M33.8 120.2C35.3 119.3 39.7 116.8 42.6 114.4C45.5 112 48.7 108.8 51.4 105.6C54 102.5 56.2 98.5 58.7 95.4C61.1 92.4 63 89.8 66 87.4C68.9 85 72.8 83.1 76.2 80.8C79.6 78.5 84.1 75.8 86.4 73.5C88.7 71.2 88.6 69.4 90 66.9C91.5 64.5 93.4 61.3 95.3 59.1C97.2 56.8 99.4 54.6 101.4 53.4C103.5 52.1 105.7 51.7 107.6 51.6C109.5 51.5 111.2 52 112.8 52.9C114.4 53.9 116.1 55.8 117.2 57.3C118.3 58.8 118.9 60.4 119.4 62.1C119.9 63.9 120.3 66 120.3 67.8C120.3 69.6 120.2 71.8 119.4 73.1C118.6 74.4 116.8 74.7 115.4 75.7C114.1 76.7 112.8 77.2 111.1 79.2C109.3 81.3 107.1 85.4 104.9 88C102.8 90.5 100.7 93.4 98.1 94.7C95.5 95.9 92 95.1 89.3 95.4C86.6 95.8 84.2 96 82 96.9C79.8 97.7 78.4 98.8 76.2 100.5C74 102.2 71.1 104.8 68.9 107.1C66.7 109.4 65 112 63 114.4C61.1 116.8 59.6 119.5 57.2 121.7C54.8 123.9 52.1 125.7 48.4 127.5C44.8 129.4 37.5 131.8 35.3 132.6"/><path stroke="#67001f" d="M149.2 22.2C147.9 22.9 143.5 25.1 141.2 26.6C138.9 28.1 136.8 28.5 135.4 31C133.9 33.4 133.1 38.3 132.4 41.2C131.8 44.1 131.6 46.7 131.6 48.5C131.5 50.3 132.3 50.1 132 52C131.7 53.9 130.7 57.5 129.8 59.9C128.9 62.2 127.6 64.1 126.7 66C125.9 67.9 125 69.7 124.6 71.3C124.1 72.9 123.9 74.3 124.1 75.6C124.3 77 125 78.5 125.9 79.6C126.7 80.7 127.9 81.7 129.4 82.2C130.8 82.8 132.9 83.2 134.6 82.9C136.4 82.7 138.3 81.7 139.9 80.6C141.5 79.5 142.8 78.2 144.3 76.5C145.7 74.8 147.2 72.6 148.5 70.4C149.8 68.2 150.7 66.3 152.1 63.1C153.6 59.9 155.7 55.6 157.3 51.4C158.8 47.3 160.5 42.4 161.6 38.3C162.7 34.1 163.1 29.8 163.8 26.6C164.5 23.4 165.4 20.5 165.7 19.3"/><path stroke="#b2182b" d="M176.2 25.9C175.5 27.2 172.9 30.9 171.9 33.9C170.8 36.9 169.9 40 169.7 44.1C169.4 48.3 171.5 55.1 170.4 58.7C169.3 62.4 165.5 63.6 163.1 66C160.7 68.4 158.5 70.9 155.8 73.3C153.1 75.7 150 78.2 147 80.6C144.1 83 141 85.7 138.3 87.9C135.6 90.1 132.9 91.8 131 93.8C129 95.7 127.5 97.1 126.6 99.6C125.7 102.1 126.6 106.1 125.9 108.6C125.1 111 123.8 112.8 122.2 114.4C120.6 116 118.1 117.1 116.4 118C114.7 118.9 113.6 119.4 112 119.8C110.4 120.2 108.7 120.4 106.8 120.2C105 120.1 102.7 119.7 101 118.8C99.3 117.8 98.3 116.2 96.6 114.4C94.9 112.6 92.7 109.4 90.8 107.8C88.8 106.2 87.1 105 84.9 104.9C82.7 104.8 79.3 105.8 77.6 107.1C75.9 108.4 75.7 110.7 74.7 112.9C73.7 115.1 73 118 71.8 120.2C70.6 122.4 69.4 124.1 67.4 126.1C65.5 128 63 129.9 60.1 131.9C57.2 133.9 51.6 137.1 49.9 138.2"/><path stroke="#d6001f" d="M178.4 39.7C179 42.7 181.5 52.8 181.8 57.3C182 61.7 181.1 63.5 179.9 66.2C178.7 68.9 176.8 71.2 174.8 73.5C172.7 75.8 170.2 77.9 167.5 80.1C164.8 82.3 161.4 84.6 158.7 86.7C156 88.7 153.6 90.5 151.4 92.5C149.2 94.4 147 96.1 145.6 98.3C144.1 100.5 143.3 103 142.7 105.6C142 108.3 142.7 112 141.9 114.4C141.2 116.8 139.9 118.7 138.3 120.2C136.7 121.8 134.4 122.9 132.4 123.9C130.5 124.9 128.9 125.3 126.6 126.1C124.3 126.9 121.1 127.8 118.6 128.7C116 129.6 113.7 130.6 111.2 131.2C108.8 131.7 106.1 132.2 103.9 131.9C101.7 131.7 100 130.9 98.1 129.7C96.1 128.5 93.9 126.6 92.2 124.6C90.5 122.7 89.2 119.4 87.9 118C86.5 116.7 85.2 116 84.2 116.6C83.2 117.2 82.9 119.6 82 121.7C81.2 123.8 80.8 126.8 79.1 129C77.4 131.2 74.7 133.1 71.8 134.8C68.9 136.6 63.3 138.8 61.6 139.6"/><path stroke="#f4a582" d="M189.4 64.8C188.2 66.5 184.3 71.6 182.1 75C179.9 78.4 177.9 82 176.2 85.2C174.5 88.4 173.8 91.8 171.9 94C169.9 96.1 166.7 97.1 164.6 98.3C162.4 99.6 160.3 99.8 158.7 101.3C157.1 102.7 155.6 104.4 155.1 107.1C154.6 109.8 155.4 114.2 155.8 117.3C156.2 120.5 157.3 123.4 157.3 126.1C157.3 128.7 156.5 131.5 155.8 133.4C155.1 135.2 154.3 136.2 152.9 137C151.4 137.8 150 138.2 147 138C144.1 137.9 139.3 136.7 135.4 136.3C131.5 135.9 127.6 135.7 123.7 135.7C119.8 135.7 115.8 136 112 136.3C108.2 136.6 104.8 137.3 101 137.8C97.2 138.2 93.8 138.6 89.3 139.2C84.8 139.9 76.5 141.3 74 141.7"/><path stroke="#c9e0ef" d="M193.8 76.4C192.5 77.9 188.3 82.5 186.5 85.2C184.6 87.9 184.3 90.3 182.8 92.5C181.3 94.7 179.3 96.4 177.7 98.3C176.1 100.3 174.7 101.9 173.3 104.2C172 106.5 170.4 109.5 169.7 112.2C168.9 114.9 168.8 117.7 168.9 120.2C169.1 122.8 170.4 124.9 170.4 127.5C170.4 130.2 169.5 133.7 168.9 136.3C168.4 138.8 167.5 141.8 167.2 142.9"/><path stroke="#c9e0ef" d="M98.8 144.3C101.6 144 112.7 142.6 115.6 142.1C118.5 141.6 114.3 141.4 116.4 141.4C118.5 141.4 124.2 141.6 128.1 142.1C132 142.6 137.8 144 139.7 144.3"/><path stroke="#92c5e0" d="M198.1 94.2C196.9 94.6 193 95.2 190.8 96.1C188.6 97.1 186.7 98.2 185 99.8C183.3 101.4 181.7 103.4 180.6 105.6C179.5 107.8 178.7 110.5 178.4 112.9C178.2 115.4 178.5 117.6 179.2 120.2C179.8 122.9 181.2 126 182.1 129C182.9 132 183.8 136.9 184.1 138.5"/><path stroke="#62a8d3" d="M200.3 98C198.9 98.3 193.9 98.8 191.6 99.8C189.3 100.8 187.7 102.2 186.5 104.2C185.2 106.1 184.4 109 184.3 111.5C184.1 113.9 184.6 116.3 185.7 118.8C186.8 121.2 189 123.4 190.8 126.1C192.7 128.7 195.7 133.4 196.7 134.8"/><path stroke="#2166ac" d="M201.8 102.4C200.4 102.6 195.8 102.5 193.8 103.4C191.7 104.3 190.3 106 189.4 107.8C188.4 109.6 187.5 112.2 187.9 114.4C188.3 116.6 189.9 119 191.6 121C193.3 122.9 195.5 124.5 198.1 126.1C200.8 127.6 206 129.5 207.6 130.2"/><path stroke="#08306b" d="M203.2 105.3C202.3 105.6 198.7 106.1 197.4 107.1C196.1 108.1 195.1 109.8 195.2 111.5C195.3 113.2 195.8 115.7 198.1 117.3C200.4 118.9 207.3 120.6 209.1 121.3"/></g>
<g class="er"><path d="M81.1 46.8L101.9 37.1"/><path d="M77.7 56.8L96.5 43.7"/><path d="M81.6 61.2L100.5 48"/><path d="M116 66.2L123.9 87.8"/><path d="M96.1 95.4L113.7 80.6"/><path d="M97.5 120.2L120.5 120.2"/><path d="M105.9 131.2L128.8 129.2"/><path d="M123.9 136L146.9 136"/><path d="M166.3 119.7L176 98.9"/></g>
</g>
<use href="#frame"/>
<g clip-path="url(#fr)"><g mask="url(#frm)"><use href="#c3"/></g>
<g class="cl"><text transform="translate(91.5 41.9) rotate(-25)" y="3.3">1014</text><text transform="translate(87.1 50.2) rotate(-35)" y="3.3">1016</text><text transform="translate(91.1 54.6) rotate(-35)" y="3.3">1018</text><text transform="translate(120 77) rotate(70)" y="3.3">1020</text><text transform="translate(104.9 88) rotate(-40)" y="3.3">1020</text><text transform="translate(109 120.2) rotate(0)" y="3.3">1018</text><text transform="translate(117.3 130.2) rotate(-5)" y="3.3">1016</text><text transform="translate(135.4 136) rotate(0)" y="3.3">1014</text><text transform="translate(171.1 109.3) rotate(-65)" y="3.3">1012</text></g>
</g>
</g>
<g transform="translate(0 160.4)">
<use href="#ticks"/>
<text x="115.2" y="18.1" text-anchor="middle" font-weight="bold" font-size="17">Day 4</text>
<g clip-path="url(#fr)">
<use href="#coast"/>
<g class="c" id="c4"><path stroke="#92c5e0" d="M71.1 19.2C72.2 19.5 75.6 20.8 77.6 21.2C79.7 21.7 82.5 21.7 83.5 21.8"/><path stroke="#c9e0ef" d="M65.2 25.2C66.3 25.3 69.2 25.6 71.8 25.9C74.4 26.2 77.6 26.7 80.6 26.9C83.5 27.2 86.4 27.4 89.3 27.4C92.2 27.3 95.4 26.9 98.1 26.5C100.7 26.1 104.2 25 105.4 24.7"/><path stroke="#f4a582" d="M63 33.2C64.5 33.4 68.9 34.3 71.8 34.7C74.7 35.1 77.6 35.5 80.6 35.7C83.5 35.9 86.4 35.9 89.3 35.7C92.2 35.4 95.4 35.1 98.1 34.2C100.7 33.4 103.2 31.8 105.4 30.6C107.6 29.4 109.5 28 111.2 26.9C112.9 25.9 114.9 24.9 115.6 24.4"/><path stroke="#f4a582" d="M59.4 44.7C60.5 44.4 63.9 43.5 66 43C68 42.5 70.1 41.9 71.8 41.8C73.5 41.7 74.7 41.9 76.2 42.5C77.6 43.2 79.2 44.5 80.6 45.9C81.9 47.3 83.4 49.4 84.2 51C85.1 52.6 85.8 53.7 85.7 55.4C85.5 57.1 84.2 59.7 83.5 61.2C82.7 62.7 83.2 62.1 81.3 64.4C79.3 66.6 74.8 71.4 71.8 74.6C68.8 77.7 65.7 80.4 63 83.3C60.4 86.3 57.9 89.2 55.7 92.1C53.5 95 51.8 98.2 49.9 100.9C48 103.5 46.2 105.7 44.1 108.2C41.9 110.6 38 114.2 36.8 115.5"/><path stroke="#c9e0ef" d="M56.9 53.2C57.9 53.1 61 52.4 63 52.5C65 52.6 67.3 53 68.9 53.9C70.5 54.9 71.8 56.9 72.5 58.3C73.3 59.8 73.6 61.2 73.3 62.7C72.9 64.2 71.4 65.8 70.3 67.3C69.2 68.8 68.4 70 66.7 71.7C65 73.4 62.4 75.1 60.1 77.5C57.8 79.9 55 83.3 52.8 86.3C50.6 89.2 48.8 92.5 47 95C45.2 97.5 42.7 100.1 41.9 101.1"/><path stroke="#62a8d3" d="M54.7 60.9C55.5 61.1 58.4 61.1 59.4 62C60.4 62.9 61 64.8 60.8 66.3C60.7 67.9 59.8 69.9 58.7 71.5C57.6 73 55.7 74.4 54.3 75.8C52.8 77.3 51.2 78.9 49.9 80.2C48.6 81.6 46.9 83.3 46.2 83.9"/><path stroke="#d6001f" d="M159 21.1C158.5 22.2 157.1 25.7 155.8 27.7C154.5 29.6 153.4 31.4 151.4 32.8C149.5 34.1 146.5 35.3 144.1 35.7C141.7 36.1 139 35.6 136.8 35C134.6 34.3 132.9 33 131 32C129 31.1 127.3 29.5 125.1 29.1C122.9 28.8 120 29 117.8 29.8C115.6 30.7 113.5 32.4 111.9 34.2C110.4 36.1 109.4 39 108.3 40.8C107.2 42.6 107.1 42.7 105.4 45.2C103.7 47.6 100.3 52.7 98.1 55.4C95.9 58.1 94.7 58.8 92.2 61.2C89.8 63.7 86.2 67.1 83.5 70C80.8 72.9 77.6 77 76.2 78.8C74.7 80.5 75.7 78.4 74.7 80.4C73.7 82.4 71.4 87.5 70.3 90.6C69.2 93.8 68.6 97 68.1 99.4C67.7 101.8 67.8 103.3 67.4 105.2C67.1 107.2 66.9 109.1 66 111.1C65 113 63.3 115 61.6 116.9C59.9 118.9 57.7 120.8 55.7 122.8C53.8 124.7 52.1 126.7 49.9 128.6C47.7 130.5 43.8 133.2 42.6 134.1"/><path stroke="#d6001f" d="M31.6 128.2C33 127.3 37.1 124.6 39.7 122.8C42.2 120.9 44.5 118.9 47 116.9C49.4 115 51.8 112.9 54.3 111.1C56.7 109.2 59.4 107.4 61.6 106C63.8 104.5 65.7 103.7 67.4 102.3C69.1 101 70.1 99.1 71.8 97.9C73.5 96.8 75.7 95.7 77.6 95.3C79.6 94.9 81.8 95.1 83.5 95.7C85.2 96.4 86.4 97.8 87.9 99.4C89.3 101 90.8 103 92.2 105.2C93.7 107.4 95.3 110.6 96.6 112.5C98 114.5 98.1 115.6 100.3 116.9C102.5 118.3 106.7 120.1 109.8 120.6C112.8 121.1 116.2 119.8 118.5 119.8C120.8 119.8 121.6 120.8 123.7 120.6C125.8 120.3 129.3 119.5 131 118.4C132.7 117.3 133.8 115.9 133.9 114C134 112 132.4 109.1 131.7 106.7C131 104.3 129.6 101.6 129.5 99.4C129.4 97.2 130 95 131 93.6C132 92.1 133.4 91.5 135.4 90.6C137.3 89.8 140 89.4 142.7 88.4C145.3 87.5 148.3 86.3 151.4 84.8C154.6 83.3 158.5 80.9 161.6 79.7C164.8 78.5 167.5 78.5 170.4 77.5C173.3 76.5 176.8 75.6 179.2 73.8C181.5 72.1 183.2 70.4 184.3 67.3C185.3 64.1 185.2 56.9 185.4 54.9"/><path stroke="#b2182b" d="M164.1 20.4C163.8 21.3 163.1 24 162.4 26.2C161.6 28.4 160.8 31.1 159.4 33.5C158.1 35.9 156.4 38.7 154.3 40.8C152.3 42.9 149.5 44.9 147 45.9C144.6 46.9 142.2 47.1 139.7 46.6C137.3 46.1 134.9 44.2 132.4 43C130 41.8 127.6 39.8 125.1 39.3C122.7 38.9 119.6 39.6 117.8 40.1C116.1 40.6 115.2 41.2 114.9 42.3C114.5 43.4 116 44.7 115.9 46.6C115.8 48.6 114.8 51.6 114.1 53.9C113.5 56.2 111.3 59.3 111.9 60.5C112.6 61.7 115.6 60.9 117.8 60.9C120 60.9 123.1 60.5 125.1 60.5C127.2 60.5 129.3 60.3 130.2 60.9C131.2 61.6 131.3 62.8 131 64.2C130.6 65.5 128.4 67.4 128.1 69.3C127.7 71.1 127.8 73.4 128.8 75.1C129.8 76.8 131.8 78.6 133.9 79.5C136 80.3 138.5 80.6 141.2 80.2C143.9 79.8 147 78.8 150 77.3C152.9 75.8 156 73.2 158.7 71.5C161.4 69.8 164.1 68.7 166 67.1C168 65.5 170.2 63.7 170.4 62C170.6 60.3 167.8 58.7 167.5 56.9C167.1 55 167.2 52.6 168.2 51C169.2 49.4 170.8 48.4 173.3 47.4C175.9 46.4 181.8 45.4 183.5 45"/><path stroke="#b2182b" d="M131.7 57.6C132.1 57.1 134.1 57.2 134.6 57.6C135.2 58 135.4 59.3 135.1 59.8C134.7 60.3 133 60.9 132.4 60.5C131.9 60.1 131.3 58.1 131.7 57.6Z"/><path stroke="#67001f" d="M174.8 21.8C174 22.8 170.8 25.7 170.4 27.7C170 29.6 171 32.2 172.6 33.5C174.2 34.8 178.7 35.1 179.9 35.4"/><path stroke="#f4a582" d="M131 24C132 24.7 134.9 27.5 136.8 28.4C138.8 29.2 140.8 29.4 142.7 29.1C144.5 28.9 146.3 28 147.8 26.9C149.2 25.9 150.8 23.6 151.4 23"/><path stroke="#f4a582" d="M52.8 137.4C54.3 136.4 59 133.5 61.6 131.5C64.1 129.6 66.2 127.9 68.1 125.7C70.1 123.5 71.9 120.6 73.3 118.4C74.6 116.2 75 113.9 76.2 112.5C77.4 111.2 78.9 110.6 80.6 110.3C82.3 110.1 84.7 110 86.4 111.1C88.1 112.2 89.6 114.7 90.8 116.9C92 119.1 92.6 122 93.7 124.2C94.8 126.4 95.6 128.3 97.3 130.1C99 131.8 101.7 133.5 103.9 134.4C106.1 135.4 107.3 136 110.5 135.6C113.6 135.2 119.2 132.7 122.9 132.2C126.5 131.8 129.5 133.1 132.4 133C135.4 132.9 138.4 132.5 140.5 131.5C142.5 130.5 143.9 129.1 144.8 127.1C145.8 125.2 146.4 122.5 146.3 119.8C146.2 117.2 144.7 114 144.1 111.1C143.5 108.2 142.4 104.9 142.7 102.3C142.9 99.8 144.1 97.4 145.6 95.7C147 94 149 93.1 151.4 92.1C153.8 91.1 157 90.1 160.2 89.5C163.3 88.9 167.2 89.1 170.4 88.4C173.6 87.8 176.5 87 179.2 85.5C181.8 84.1 184.4 82.1 186.5 79.7C188.5 77.3 190.7 72.4 191.6 70.9"/><path stroke="#c9e0ef" d="M60.8 139.1C62.2 138.4 66.3 136.2 68.9 135.2C71.4 134.1 73.7 133.2 76.2 133C78.6 132.7 81.3 133.1 83.5 133.7C85.7 134.3 87.2 135.8 89.3 136.6C91.4 137.5 92.5 138.2 95.9 138.8C99.3 139.5 107.1 140.3 109.8 140.6C112.4 140.8 109.7 140.2 112 140.3C114.3 140.3 118.4 140.5 123.7 141C128.9 141.5 140.1 142.8 143.4 143.2"/><path stroke="#c9e0ef" d="M197.4 88.9C195.8 89.5 191 91.4 187.9 92.8C184.9 94.2 182.1 96.1 179.2 97.2C176.2 98.3 172.7 99 170.4 99.4C168.1 99.8 167 98.7 165.3 99.4C163.6 100.1 161.6 101.8 160.2 103.8C158.7 105.7 157.3 108.6 156.5 111.1C155.8 113.5 155.4 115.9 155.8 118.4C156.2 120.8 157.9 123 158.7 125.7C159.6 128.3 160.9 131.6 160.9 134.4C161 137.2 159.3 141.1 159 142.5"/><path stroke="#92c5e0" d="M200.3 94.4C198.7 94.8 193.6 95.5 190.8 96.5C188 97.4 186 98.7 183.5 100.1C181.1 101.6 178.2 103.3 176.2 105.2C174.3 107.2 172.8 109.4 171.9 111.8C170.9 114.2 170.4 117 170.4 119.8C170.4 122.6 171.5 124.9 171.9 128.6C172.2 132.2 172.6 139.5 172.7 141.7"/><path stroke="#62a8d3" d="M201.8 98.2C200.2 98.5 194.8 99.2 192.3 100.1C189.7 101.1 188.2 102.2 186.5 103.8C184.7 105.4 183 107.4 182.1 109.6C181.1 111.8 180.4 114.2 180.6 116.9C180.9 119.6 182.3 122.2 183.5 125.7C184.8 129.1 187.4 135.6 188.2 137.6"/><path stroke="#2166ac" d="M203.2 102.6C201.9 102.8 197.4 103 195.2 103.8C193 104.6 191.4 105.8 190.1 107.4C188.8 109 187.4 111.2 187.2 113.3C186.9 115.3 187.5 117.5 188.6 119.8C189.7 122.1 191.3 124.8 193.8 127.1C196.2 129.5 201.7 132.9 203.2 134"/><path stroke="#08306b" d="M207.6 106.3C206.3 106.5 201.7 106.5 199.6 107.4C197.5 108.3 195.8 110.2 195.2 111.8C194.6 113.4 195.2 115.3 195.9 116.9C196.7 118.5 197.3 120.2 199.6 121.3C201.9 122.4 208.1 123 209.8 123.3"/></g>
<g class="er"><path d="M99.6 55.1L111.1 35.2"/><path d="M110.9 60.2L118 38.3"/><path d="M74.7 74.3L87.9 55.5"/><path d="M60.5 80.9L73.7 62"/><path d="M91.1 110.3L110 123.5"/><path d="M99 135.3L122 135.3"/><path d="M84.9 138.1L107.8 140.1"/><path d="M151.8 115.9L163.3 96"/></g>
</g>
<use href="#frame"/>
<g clip-path="url(#fr)"><g mask="url(#frm)"><use href="#c4"/></g>
<g class="cl"><text transform="translate(105.4 45.2) rotate(-60)" y="3.3">1018</text><text transform="translate(114.4 49.3) rotate(-72)" y="3.3">1020</text><text transform="translate(81.3 64.9) rotate(-55)" y="3.3">1016</text><text transform="translate(67.1 71.5) rotate(-55)" y="3.3">1014</text><text transform="translate(100.6 116.9) rotate(35)" y="3.3">1018</text><text transform="translate(110.5 135.3) rotate(0)" y="3.3">1016</text><text transform="translate(96.3 139.1) rotate(5)" y="3.3">1014</text><text transform="translate(157.5 106) rotate(-60)" y="3.3">1014</text></g>
</g>
</g>
<g transform="translate(225 160.4)">
<use href="#ticks"/>
<text x="114.3" y="18.1" text-anchor="middle" font-weight="bold" font-size="17">Day 5</text>
<g clip-path="url(#fr)">
<use href="#coast"/>
<g class="c" id="c5"><path stroke="#d6001f" d="M67.1 23C68.1 22.7 71.3 22 73.3 21.5C75.3 21.1 78.1 20.6 79.1 20.4"/><path stroke="#67001f" d="M76.2 28.8C76.8 28.5 79.2 28.1 80.6 28.2C81.9 28.4 84.5 29.4 84.5 29.8C84.5 30.3 81.8 30.9 80.6 31C79.3 31.1 77.6 30.7 76.9 30.3C76.2 29.9 75.6 29.2 76.2 28.8Z"/><path stroke="#d6001f" d="M60.8 39C62.7 39 68.3 38.9 71.8 38.6C75.3 38.4 78.6 37.9 82 37.6C85.4 37.3 88.8 36.9 92.2 36.7C95.6 36.5 99.3 36.1 102.5 36.4C105.6 36.7 108.8 37.6 111.2 38.6C113.6 39.6 116.6 40.7 117.1 42.3C117.5 43.8 115.3 46.5 114.1 48.1C112.9 49.7 111.7 50.7 109.8 51.7C107.8 52.8 104.9 53.6 102.5 54.7C100 55.8 97.2 57 95.2 58.3C93.1 59.7 91.3 61.1 90 62.7C88.8 64.3 88 66.1 87.9 67.8C87.7 69.5 88.6 71.3 89.3 72.9C90 74.5 89.8 76.6 92.2 77.5C94.7 78.4 100.9 77.7 103.9 78.2C107 78.7 109 79.3 110.5 80.4C111.9 81.5 112.8 83.1 112.7 84.8C112.5 86.5 111.5 88.8 109.8 90.6C108 92.5 104.8 94.2 102.5 95.7C100.1 97.3 97.3 98.3 95.9 100.1C94.4 102 93.6 104.4 93.7 106.7C93.8 109 95.4 111.8 96.6 114C97.8 116.2 99.3 118.4 101 119.8C102.7 121.3 104.4 122.4 106.8 122.8C109.3 123.1 112.9 122.4 115.6 122C118.3 121.7 121.8 120.6 122.9 120.6C124 120.6 121.1 122.1 122.2 122C123.3 121.9 127.7 121.2 129.5 119.8C131.3 118.5 132.8 116.2 133.2 114C133.5 111.8 132 109.1 131.7 106.7C131.5 104.3 131.1 101.5 131.7 99.4C132.3 97.3 133.8 95.6 135.4 94.3C136.9 92.9 138.8 92.3 141.2 91.4C143.6 90.4 147 89.3 150 88.4C152.9 87.6 156 86.7 158.7 86.3C161.4 85.8 163.6 85.3 166 85.5C168.4 85.8 170.9 87.6 173.3 87.7C175.7 87.8 178.2 87.2 180.6 86.3C183 85.3 186 83.8 187.9 81.9C189.8 79.9 191.3 75.8 192 74.6"/><path stroke="#f4a582" d="M57.9 47.8C59.3 47.2 63.2 45.3 66 44.4C68.8 43.6 71.8 42.8 74.7 42.5C77.6 42.3 80.9 42.4 83.5 43C86 43.5 88.1 44.8 90 45.9C92 47 94.8 48 95.2 49.6C95.5 51.1 93.7 53.2 92.2 55.4C90.8 57.6 88.7 59.8 86.4 62.7C84.1 65.6 80.1 70 78.4 72.9C76.7 75.8 76.8 77.9 76.2 80.2C75.6 82.6 75.9 84.5 74.7 87C73.5 89.5 71.1 92.2 68.9 95C66.7 97.8 64.3 100.9 61.6 103.8C58.9 106.7 55.7 110.1 52.8 112.5C49.9 115 47.1 116.8 44.1 118.4C41 120 36.2 121.4 34.6 122"/><path stroke="#c9e0ef" d="M55.4 55.4C56.7 54.8 60.3 52.8 63 51.7C65.8 50.7 69.4 49.6 71.8 49.3C74.2 48.9 76.2 49.1 77.6 49.8C79 50.6 80.7 51.5 80.3 53.9C79.8 56.4 76.9 60.8 74.7 64.4C72.6 68.1 69.1 72.5 67.4 75.8C65.7 79.2 64.7 83.6 64.5 84.6C64.3 85.6 66.4 80.9 66 81.9C65.5 82.9 63.5 87.5 61.6 90.6C59.6 93.8 57 97.8 54.3 100.9C51.6 103.9 48.4 106.9 45.5 108.9C42.6 110.9 38.2 112.3 36.8 113"/><path stroke="#62a8d3" d="M55 70C55.7 68.4 57.2 67.7 57.9 67.8C58.7 67.9 59.5 69.3 59.5 70.7C59.6 72.2 58.8 75 58.1 76.6C57.3 78.1 55.9 80.1 55.2 80.2C54.4 80.3 53.6 79 53.5 77.3C53.5 75.6 54.3 71.6 55 70Z"/><path stroke="#3587c4" d="M47.3 80.2C47.7 81.4 49.7 85.3 49.9 87.5C50.1 89.7 49.4 91.4 48.4 93.4C47.5 95.3 45.4 97.7 44.1 99.2C42.7 100.7 41 101.9 40.4 102.4"/><path stroke="#3587c4" d="M153.6 22.4L160.9 21.2"/><path stroke="#c9e0ef" d="M138.3 24.4C139.5 25 143.1 27 145.6 27.7C148 28.3 150.4 28.5 152.9 28.4C155.3 28.3 157.7 27.7 160.2 26.9C162.6 26.2 165.3 25.1 167.5 24C169.7 23 172.3 21.2 173.3 20.7"/><path stroke="#f4a582" d="M131.3 24.4C132.2 25.3 134.7 28.5 136.8 29.8C139 31.2 141.4 32.2 144.1 32.8C146.8 33.4 150 33.6 152.9 33.5C155.8 33.4 158.7 32.9 161.6 32C164.6 31.2 167.7 29.6 170.4 28.4C173.1 27.2 176.5 25.3 177.7 24.7"/><path stroke="#d6001f" d="M121.1 24C121.5 25.3 122.5 30 123.7 32C124.8 34.1 126.4 35.3 128.1 36.4C129.8 37.5 130 38.1 133.9 38.6C137.8 39.1 146.5 39.1 151.4 39.6C156.3 40.1 159.9 41.6 163.1 41.5C166.3 41.5 168.2 40.3 170.4 39.3C172.6 38.4 174.6 36.9 176.2 35.7C177.9 34.5 179.6 32.6 180.3 32"/><path stroke="#67001f" d="M183.5 45.2C182.1 46.3 177.7 49.7 174.8 51.7C171.9 53.8 169.2 55.9 166 57.6C162.9 59.3 159.2 60.7 155.8 62C152.4 63.2 149.2 63.4 145.6 64.9C141.9 66.3 137.1 68.7 133.9 70.7C130.7 72.8 127.8 75.2 126.6 77.3C125.4 79.4 125.4 82 126.6 83.1C127.8 84.2 131.2 84 133.9 83.9C136.6 83.7 140.2 83.5 142.7 82.4C145.1 81.3 146.3 79.1 148.5 77.3C150.7 75.5 153.7 73 155.8 71.5C157.9 69.9 159.7 68 160.9 67.8C162.1 67.6 161.5 69.4 163.1 70C164.7 70.6 168.2 71.7 170.4 71.5C172.6 71.2 174.5 70.2 176.2 68.5C177.9 66.8 178.9 63.7 180.6 61.2C182.4 58.8 185.7 54.9 186.7 53.6"/><path stroke="#f4a582" d="M55 137.6C56.3 136.6 60.6 133.1 63 131.5C65.5 129.9 68.1 129.6 69.6 127.9C71.1 126.2 70.9 123.6 71.8 121.3C72.6 119 73.7 116.3 74.7 114C75.7 111.7 76.2 108.5 77.6 107.4C79.1 106.3 81.8 106.7 83.5 107.4C85.2 108.2 86.6 110 87.9 111.8C89.1 113.6 89.9 116.1 90.8 118.4C91.6 120.7 92.2 123.7 93 125.7C93.7 127.6 93.2 128.3 95.2 130.1C97.1 131.8 101.2 135.2 104.6 135.9C108 136.6 112.8 134.8 115.6 134.4C118.4 134.1 120.6 133.8 121.4 133.7C122.3 133.6 119.2 133.8 120.8 133.7C122.4 133.6 127.9 133.5 131 133C134 132.5 136.9 132.5 139 130.8C141.1 129.1 142.4 125.6 143.4 122.8C144.4 120 144.4 116.9 144.8 114C145.3 111.1 145.5 107.7 146.3 105.2C147.2 102.8 148.4 100.7 150 99.4C151.5 98.1 153.4 97.3 155.8 97.2C158.2 97.1 161.6 98.5 164.6 98.7C167.5 98.8 170.4 98.8 173.3 98.2C176.2 97.6 179.4 96 182.1 95C184.7 94 186.7 92.8 189.4 92.1C192 91.4 196.7 90.9 198.1 90.6"/><path stroke="#c9e0ef" d="M65.2 141C66.8 140.6 71.2 139 74.7 138.8C78.2 138.6 82.7 139.4 86.4 140C90 140.6 92.7 141.8 96.6 142.5C100.5 143.2 107.2 144.1 109.8 144.2C112.3 144.3 109.7 143.1 112 142.9C114.3 142.7 119.3 143 123.7 143.2C128.1 143.4 135.8 144 138.3 144.2"/><path stroke="#c9e0ef" d="M199.6 93.3C198.1 93.7 193.3 94.8 190.8 95.7C188.4 96.6 186.7 97.6 185 98.7C183.3 99.8 182.3 101.1 180.6 102.3C178.9 103.5 176.6 104.7 174.8 106C172.9 107.2 171.6 107.7 169.7 109.9C167.7 112.1 164.4 116 163.1 119.1C161.8 122.2 161.8 125.6 161.6 128.6C161.5 131.6 162.5 134.9 162.4 137.4C162.3 139.8 161.3 142.2 161.1 143.2"/><path stroke="#62a8d3" d="M201.1 97.4C199.6 97.6 194.7 97.8 192.3 98.7C189.9 99.5 188.2 100.7 186.5 102.3C184.7 103.9 183.2 106 182.1 108.2C181 110.3 180.4 112.8 179.9 115.5C179.4 118.1 179.2 121.5 179.2 124.2C179.2 126.9 180.5 128.9 179.9 131.5C179.3 134.1 176.4 138.6 175.6 140"/><path stroke="#2166ac" d="M202.5 101.7C201.2 102 196.7 102.2 194.5 103C192.3 103.9 190.6 105 189.4 106.7C188.2 108.4 187.3 110.8 187.2 113.3C187.1 115.7 187.9 118.7 188.6 121.3C189.4 123.8 190.6 126.2 191.6 128.6C192.5 131 194 134.4 194.5 135.6"/><path stroke="#08306b" d="M204.7 108.2C203.4 108.4 198.7 108.6 196.7 109.6C194.6 110.6 192.8 112.3 192.3 114C191.8 115.7 192.8 118.3 193.8 119.8C194.7 121.4 195.6 122.7 198.1 123.5C200.7 124.3 207.3 124.5 209.1 124.7"/></g>
<g class="er"><path d="M68.1 73.9L81.3 55"/><path d="M80.5 70.4L93.7 51.5"/><path d="M83.7 70.8L100.8 86.2"/><path d="M140 38.6L162.9 40.6"/><path d="M124.5 77.3L143.3 64.1"/><path d="M93.5 132.9L115.8 138.9"/><path d="M85.2 141.6L108.1 143.6"/><path d="M162.3 118.4L177.1 100.8"/></g>
</g>
<use href="#frame"/>
<g clip-path="url(#fr)"><g mask="url(#frm)"><use href="#c5"/></g>
<g class="cl"><text transform="translate(74.7 64.4) rotate(-55)" y="3.3">1014</text><text transform="translate(87.1 60.9) rotate(-55)" y="3.3">1016</text><text transform="translate(92.2 78.5) rotate(42)" y="3.3">1018</text><text transform="translate(151.4 39.6) rotate(5)" y="3.3">1018</text><text transform="translate(133.9 70.7) rotate(-35)" y="3.3">1020</text><text transform="translate(104.6 135.9) rotate(15)" y="3.3">1016</text><text transform="translate(96.6 142.6) rotate(5)" y="3.3">1014</text><text transform="translate(169.7 109.6) rotate(-50)" y="3.3">1014</text></g>
</g>
</g>
<g transform="translate(450 160.4)">
<use href="#ticks"/>
<text x="121.3" y="18.1" text-anchor="middle" font-weight="bold" font-size="17">Day 6</text>
<g clip-path="url(#fr)">
<use href="#coast"/>
<g class="c" id="c6"><path stroke="#f4a582" d="M66.2 19.2L71.1 21.5"/><path stroke="#d6001f" d="M74.4 20.1C73.7 20.8 71.7 23.2 70.3 24.7C68.9 26.2 67.2 27.9 66 29.1C64.7 30.4 63.5 31.8 63 32.3"/><path stroke="#b2182b" d="M77.9 20.1C77.4 21.3 75.6 25.4 74.7 27.7C73.8 29.9 72.5 31.9 72.5 33.5C72.5 35.1 73.1 36.2 74.7 37.1C76.3 38.1 79.8 38.4 82 39.3C84.2 40.3 86.3 41.5 87.9 43C89.4 44.4 90.7 46.3 91.5 48.1C92.4 49.9 92.4 52.2 93 53.9C93.6 55.6 93.8 57.2 95.2 58.3C96.5 59.4 98.9 59.8 101 60.5C103.1 61.2 105.6 61.6 107.6 62.7C109.5 63.8 111.3 65.1 112.7 67.1C114 69 115.3 71.7 115.6 74.4C115.8 77.1 115.1 80.4 114.1 83.1C113.2 85.8 111.5 88.7 109.8 90.6C108 92.6 105.9 93.9 103.9 95C102 96.1 99.5 95.7 98.1 97.2C96.6 98.7 95.6 101 95.2 103.8C94.7 106.6 94.4 111.3 95.2 114C95.9 116.7 97.8 118.1 99.5 119.8C101.2 121.5 102.9 123.1 105.4 124.2C107.8 125.3 111.2 126.2 114.1 126.4C117.1 126.6 122 125.9 122.9 125.7C123.8 125.4 118.4 125.6 119.3 124.9C120.2 124.3 125.4 123.1 128.1 122C130.7 120.9 133.7 120 135.4 118.4C137.1 116.8 137.9 114.7 138.3 112.5C138.6 110.3 137.8 107.8 137.5 105.2C137.3 102.7 136.5 99.5 136.8 97.2C137.2 94.9 138.3 92.9 139.7 91.4C141.2 89.8 143.6 89.1 145.6 87.7C147.5 86.4 149.8 85 151.4 83.3C153 81.6 154.3 79.4 155.1 77.5C155.8 75.6 156.9 73.8 155.8 71.7C154.7 69.5 150.6 66.8 148.5 64.4C146.4 61.9 144.6 59.3 143.4 56.9C142.2 54.4 142.5 52.2 141.2 49.6C139.9 46.9 137.3 43.5 135.4 40.8C133.4 38.1 130.8 36.2 129.5 33.5C128.3 30.8 128.1 26.2 127.8 24.7"/><path stroke="#67001f" d="M85.2 22.1C85.3 23.5 84.7 28.4 85.7 30.6C86.6 32.7 88.9 33.4 90.8 35C92.6 36.5 94.9 38.2 96.6 40.1C98.3 41.9 99.3 44.1 101 45.9C102.7 47.7 105.1 49.8 106.8 51C108.5 52.3 109.3 52.9 111.2 53.5C113.2 54.1 116.9 54.5 118.5 54.7C120.1 54.8 119.7 54.7 120.8 54.2C121.9 53.7 124.5 53 125.1 51.7C125.7 50.5 124.9 49.2 124.4 46.6C123.9 44.1 122.9 40.1 122.2 36.4C121.6 32.8 120.8 26.7 120.5 24.7"/><path stroke="#d6001f" d="M54 60.5C55 59.4 57.9 55.7 60.1 53.9C62.4 52.2 65.2 50.5 67.4 49.8C69.6 49.2 71.7 49.2 73.3 49.8C74.8 50.5 76.1 52 76.9 53.9C77.8 55.8 78.1 60 78.4 61.2C78.6 62.5 78.4 59.6 78.4 61.4C78.4 63.3 79 68.5 78.4 72.4C77.8 76.3 76.1 81 74.7 84.8C73.4 88.6 72 91.9 70.3 95C68.6 98.2 66.7 101.2 64.5 103.8C62.3 106.3 59.6 108.8 57.2 110.3C54.8 111.9 52.1 113 49.9 113.3C47.7 113.5 46 113 44.1 111.8C42.1 110.6 39.2 106.9 38.2 106"/><path stroke="#f4a582" d="M55 73.1C55.9 71.1 57.4 70 58.7 69.5C59.9 69 61.2 69.1 62.3 70.2C63.4 71.3 64.9 73.8 65.2 76C65.6 78.2 65.2 80.8 64.5 83.3C63.8 85.9 62.1 89.2 60.8 91.4C59.6 93.6 58.3 96.5 57.2 96.5C56.1 96.5 55 93.8 54.3 91.4C53.6 88.9 53 84.9 53.1 81.9C53.2 78.8 54.1 75.2 55 73.1Z"/><path stroke="#d6001f" d="M95.9 76C96.3 75.4 100.4 73.9 101 73.8C101.6 73.8 105.1 74.7 105.4 75.3C105.6 75.9 105 82.7 104.6 83.3C104.3 84 100.2 85.5 99.5 85.5C98.9 85.5 95.4 84 95.2 83.3C94.9 82.7 95.5 76.7 95.9 76Z"/><path stroke="#67001f" d="M131 70.2C131.9 69.5 135.3 68.9 136.1 69.2C136.9 69.5 143 73.8 143.4 74.6C143.7 75.3 141.8 79.6 141.2 80.4C140.6 81.2 135 85.6 133.9 86.3C132.8 86.9 125.2 90.7 124.4 90.6C123.6 90.6 121.6 86.3 121.5 85.5C121.4 84.7 122.3 80 122.9 79C123.6 77.9 130.1 70.9 131 70.2Z"/><path stroke="#67001f" d="M106.8 107.4C107.1 106.7 116.3 99.9 117.1 100.1C117.8 100.3 118 109.6 117.8 110.3C117.5 111.1 114.1 111.6 113.4 111.4C112.7 111.2 106.6 108.2 106.8 107.4Z"/><path stroke="#d6001f" d="M163.8 70.9C164.3 70.5 171.8 68.1 172.6 68C173.4 68 175.1 69.7 175.5 70.2C175.9 70.7 178.5 75.2 178.4 76C178.4 76.9 175.4 82.3 174.8 82.6C174.2 82.9 170.3 81 169.7 80.4C169 79.9 165.7 75.2 165.3 74.6C164.9 73.9 163.3 71.4 163.8 70.9Z"/><path stroke="#d6001f" d="M135.1 24.7C135.8 26.2 138 31.1 139.7 33.5C141.5 35.9 143.6 37.4 145.6 39.3C147.5 41.3 148.7 42.7 151.4 45.2C154.1 47.6 158 52.1 161.6 53.9C165.3 55.8 170.2 55.2 173.3 56.1C176.5 57.1 178.4 58.3 180.6 59.8C182.8 61.2 184.8 63.4 186.5 64.9C188.1 66.3 189.9 67.9 190.5 68.5"/><path stroke="#f4a582" d="M144.4 24C145.3 25.1 147.8 28.5 150 30.6C152.1 32.6 154.8 34.6 157.3 36.4C159.7 38.2 161.9 39.8 164.6 41.5C167.2 43.2 170 44.9 173.3 46.6C176.6 48.3 182.4 50.9 184.3 51.7"/><path stroke="#f4a582" d="M154 22.5C155.1 23.5 157.9 26.6 160.2 28.4C162.4 30.2 165 32 167.5 33.5C169.9 35 172.3 36.1 174.8 37.1C177.2 38.2 180.9 39.6 182.1 40.1"/><path stroke="#92c5e0" d="M162.4 22.5C163.7 23.4 167.6 26.2 170.4 27.7C173.2 29.1 177.7 30.7 179.2 31.3"/><path stroke="#62a8d3" d="M165.7 21.5C166.7 22.2 169.7 24.3 171.9 25.5C174 26.6 177.3 27.8 178.4 28.2"/><path stroke="#3587c4" d="M169.2 20.4C170.2 21 173.4 23.2 174.8 24C176.2 24.9 177.2 25.2 177.7 25.5"/><path stroke="#2166ac" d="M171.6 18.9L175.5 21.2"/><path stroke="#d6001f" d="M57.9 138.1C59.3 137.5 63.4 135.8 66 134.4C68.5 133.1 71.4 131.8 73.3 130.1C75.1 128.3 76.1 126.4 76.9 124.2C77.8 122 77.4 118.9 78.4 116.9C79.3 115 81.2 113 82.7 112.5C84.3 112 86.4 112.8 87.9 114C89.3 115.2 90.9 117.4 91.5 119.8C92.1 122.3 91.3 126.2 91.5 128.6C91.7 131 92.1 132.7 93 134.4C93.8 136.1 94.2 137.8 96.6 138.8C99 139.8 103.4 140.8 107.6 140.6C111.7 140.3 118.3 138 121.4 137.4C124.6 136.7 124.3 136.9 126.6 136.6C128.9 136.4 132.4 136 135.4 135.9C138.3 135.8 141.4 136.4 144.1 135.9C146.8 135.4 149.5 134.4 151.4 133C153.4 131.5 154.8 129.6 155.8 127.1C156.8 124.7 157.1 121.1 157.3 118.4C157.4 115.7 156.5 113.5 156.5 111.1C156.5 108.6 156.6 105.7 157.3 103.8C157.9 101.8 158.5 100 160.2 99.4C161.9 98.8 165 100.1 167.5 100.1C169.9 100.1 172.6 100.2 174.8 99.4C177 98.5 178.4 96.2 180.6 95C182.8 93.8 185 92.8 187.9 92.1C190.8 91.4 196.4 91.1 198.1 90.9"/><path stroke="#d6001f" d="M54.3 125.4C54.5 125.2 55.5 125.2 55.7 125.4C56 125.6 56 126.5 55.7 126.7C55.5 126.9 54.5 126.9 54.3 126.7C54 126.5 54 125.6 54.3 125.4Z"/><path stroke="#b2182b" d="M33.1 121.6C34.2 122.1 37.4 124 39.7 124.9C42 125.9 45.3 126 47 127.1C48.7 128.2 49.6 129.9 49.9 131.5C50.2 133.1 49 135.8 48.9 136.6"/><path stroke="#f4a582" d="M195.9 95C194.4 95.6 189 97.2 186.5 98.7C183.9 100.1 182.2 101.7 180.6 103.8C179 105.8 177.8 108.4 177 111.1C176.1 113.8 175.9 116.9 175.5 119.8C175.1 122.8 175.6 125.9 174.8 128.6C173.9 131.3 171.6 133.6 170.4 135.9C169.2 138.2 168 141.4 167.5 142.5"/><path stroke="#f4a582" d="M200.3 99C198.7 99.3 193.4 99.6 190.8 100.9C188.3 102.1 186.2 104.5 185 106.7C183.8 108.9 183.5 111.6 183.5 114C183.5 116.4 184.4 118.9 185 121.3C185.6 123.7 187.2 126.4 187.2 128.6C187.2 130.8 185.8 132.7 185 134.4C184.1 136.2 182.6 138.4 182.1 139.2"/><path stroke="#92c5e0" d="M201.8 104.9C200.4 105 195.8 104.6 193.8 105.2C191.7 105.9 190.3 107.4 189.4 108.9C188.4 110.3 187.7 112.2 187.9 114C188.2 115.8 189.6 117.9 190.8 119.8C192 121.8 193.5 123.4 195.2 125.7C196.9 127.9 200.1 132 201.1 133.3"/><path stroke="#3587c4" d="M203.2 113.7C202.3 113.5 198.7 112.5 197.4 112.5C196.1 112.6 195.1 113.4 195.2 114C195.3 114.6 196.4 115.6 198.1 116.2C199.8 116.7 204.2 117.2 205.4 117.4"/></g>
<g class="er"><path d="M101.1 48.6L121.9 58.4"/><path d="M77.4 83.8L79.4 60.9"/><path d="M59.8 63.5L71.3 83.4"/><path d="M92.9 115.8L96.9 93.2"/><path d="M96.1 140.6L119.1 140.6"/><path d="M151.2 49.1L172.1 58.8"/><path d="M118 83.7L132.8 66.1"/></g>
</g>
<use href="#frame"/>
<g clip-path="url(#fr)"><g mask="url(#frm)"><use href="#c6"/></g>
<g class="cl"><text transform="translate(111.5 53.5) rotate(25)" y="3.3">1020</text><text transform="translate(78.4 72.4) rotate(-85)" y="3.3">1016</text><text transform="translate(65.5 73.4) rotate(60)" y="3.3">1014</text><text transform="translate(94.9 104.5) rotate(-80)" y="3.3">1018</text><text transform="translate(107.6 140.6) rotate(0)" y="3.3">1016</text><text transform="translate(161.6 53.9) rotate(25)" y="3.3">1016</text><text transform="translate(125.4 74.9) rotate(-50)" y="3.3">1020</text></g>
</g>
</g>
<g transform="translate(0 320.7)">
<use href="#ticks"/>
<text x="115.2" y="18.8" text-anchor="middle" font-weight="bold" font-size="17">Day 7</text>
<g clip-path="url(#fr)">
<use href="#coast"/>
<g class="c" id="c7"><path stroke="#c9e0ef" d="M65.2 26.2C66.3 25.8 69.2 24.6 71.8 23.7C74.4 22.8 79.1 21.3 80.6 20.8"/><path stroke="#f4a582" d="M98.1 24.1C98.2 25.7 98.4 30 98.8 33.2C99.2 36.4 99.7 40 100.3 43.4C100.9 46.8 101.6 50.7 102.5 53.6C103.3 56.6 104.2 59 105.4 60.9C106.6 62.9 108.8 63.6 109.8 65.3C110.7 67 111.1 69.2 111.2 71.2C111.3 73.1 111.2 75.3 110.5 77C109.8 78.7 108.3 80.3 106.8 81.4C105.4 82.5 102.9 84.5 101.7 83.6C100.5 82.6 101.1 78.9 99.5 75.5C98 72.1 94.7 64.6 92.2 63.1C89.8 61.7 87.1 64.9 84.9 66.8C82.7 68.6 80.8 71.6 79.1 74.1C77.4 76.5 76.2 79.4 74.7 81.4C73.3 83.3 72 84.9 70.3 85.8C68.6 86.6 65.9 87.2 64.5 86.5C63.1 85.8 62.4 83.7 61.9 81.4C61.4 79.1 61.3 76 61.6 72.6C61.9 69.2 62.8 64.6 63.8 60.9C64.7 57.3 66.2 53.9 67.4 50.7C68.6 47.6 70.6 44 71.1 42C71.6 39.9 71.2 39 70.3 38.3C69.5 37.6 67.4 37.6 66 37.6C64.5 37.5 62.3 37.9 61.6 38"/><path stroke="#d6001f" d="M105.4 24.7C105.5 26.6 105.5 32.3 106.1 36.1C106.7 40 107.7 44.4 109 47.8C110.4 51.2 112.4 53.9 114.1 56.6C115.8 59.2 118.1 61.7 119.2 63.9C120.3 66 120.8 67.5 120.7 69.7C120.6 71.9 119.8 74.3 118.5 77C117.2 79.7 114.9 83 112.7 85.8C110.5 88.6 107.6 91.6 105.4 93.8C103.2 96 100.7 97.3 99.5 98.9C98.3 100.5 96.9 100.8 98.1 103.5C99.3 106.2 103.4 112.7 106.8 115.2C110.2 117.6 116.4 117.8 118.5 118.1C120.6 118.3 117.7 116.2 119.3 116.6C120.9 117 125.4 120 128.1 120.3C130.7 120.5 133.7 119.2 135.4 118.1C137.1 117 138.2 115.9 138.3 113.7C138.4 111.5 136.6 107.9 136.1 104.9C135.6 102 135 98.6 135.4 96.2C135.7 93.7 136.8 92 138.3 90.3C139.7 88.6 141.7 87.7 144.1 86C146.5 84.3 150 82.1 152.9 80.1C155.8 78.2 159 76.2 161.6 74.3C164.3 72.3 167.2 70.9 168.9 68.4C170.6 66 171.4 61.2 171.9 59.7C172.3 58.2 172.5 61.2 171.9 59.5C171.2 57.7 170.2 52.7 168.2 49.3C166.3 45.8 163 42 160.2 39C157.4 36.1 154.3 34.1 151.4 31.7C148.5 29.4 144.1 25.9 142.7 24.7"/><path stroke="#67001f" d="M112.7 24.7C112.8 26.6 112.8 32.5 113.4 36.1C114 39.7 115 43.4 116.3 46.3C117.7 49.3 120.6 52.4 121.4 53.6C122.3 54.9 120.9 52.4 121.5 53.6C122.1 54.9 124.2 58.3 125.1 60.9C126.1 63.6 127.1 66.5 127.3 69.7C127.6 72.9 126.5 77.6 126.6 79.9C126.7 82.2 126.8 83.1 128.1 83.6C129.3 84 131.7 83.7 133.9 82.8C136.1 82 138.5 80.4 141.2 78.5C143.9 76.5 147.3 73.6 150 71.2C152.6 68.7 155.7 66.5 157.3 63.9C158.8 61.2 159.7 57.8 159.4 55.1C159.2 52.4 157.6 50.2 155.8 47.8C154 45.4 151.2 42.7 148.5 40.5C145.8 38.3 142.2 36.4 139.7 34.7C137.3 33 135.3 31.9 133.9 30.3C132.5 28.6 131.8 25.7 131.4 24.7"/><path stroke="#d6001f" d="M51.6 69C52.1 70.8 53.5 76.1 54.3 79.9C55.1 83.7 56 89.4 56.5 91.6C57 93.8 56.6 91.3 57.2 93.3C57.8 95.2 58.8 100.6 60.1 103.5C61.5 106.4 64.7 107.5 65.2 110.8C65.7 114.1 64.4 120.3 63 123.2C61.7 126.1 59 126.8 57.2 128.3C55.4 129.8 53.6 130.7 52.1 131.9C50.6 133.2 48.8 135 48.1 135.6"/><path stroke="#67001f" d="M46.7 82.3C47.2 83.6 49.5 87.5 49.9 90.3C50.3 93.1 49.9 95.9 49.2 99.1C48.4 102.3 46.9 105.9 45.5 109.3C44.2 112.7 42.6 116.4 41.1 119.5C39.7 122.7 38.1 126.1 36.8 128.3C35.4 130.5 33.7 131.9 33.1 132.7"/><path stroke="#f4a582" d="M152.6 22.7C153.8 24 157.6 27.7 160.2 30.3C162.8 32.9 165.8 35.4 168.2 38.3C170.6 41.2 172.9 44.5 174.8 47.8C176.6 51.1 178.3 54.9 179.2 58C180 61.2 180.4 63.9 179.9 66.8C179.4 69.7 177.8 72.9 176.2 75.5C174.7 78.2 172.8 81.1 170.4 82.8C168 84.5 164.6 84.8 161.6 85.8C158.7 86.7 155.3 87.2 152.9 88.7C150.4 90.2 148.4 92.2 147 94.7C145.7 97.2 144.8 100.3 144.8 103.5C144.8 106.6 145.9 110.5 147 113.7C148.1 116.9 150.1 119.5 151.4 122.5C152.8 125.4 154.6 128.7 155.1 131.2C155.6 133.8 155.4 136.3 154.3 137.8C153.2 139.2 150.7 139.7 148.5 140C146.3 140.3 144.7 140 141.2 139.7C137.7 139.3 131.2 137.9 127.3 137.8C123.4 137.7 120.8 138.8 117.8 139.2C114.9 139.7 112.1 140.6 109.8 140.7C107.4 140.8 105.4 140.8 103.9 140C102.5 139.1 101.2 137.5 101 135.6C100.7 133.6 102.7 131 102.5 128.3C102.2 125.6 101 122.1 99.5 119.5C98.1 117 95.6 114.4 93.7 113C91.7 111.5 89.8 110.8 87.9 110.8C85.9 110.8 83.7 111.5 82 113C80.3 114.4 79.1 117 77.6 119.5C76.2 122.1 75.2 125.9 73.3 128.3C71.3 130.7 68.5 132.5 66 134.1C63.4 135.8 59.3 137.4 57.9 138.1"/><path stroke="#c9e0ef" d="M158.4 21.8C159.7 23 163.3 26.2 166 28.8C168.7 31.4 172.2 34.4 174.8 37.6C177.3 40.7 179.8 44.4 181.3 47.8C182.9 51.2 183.5 54.4 184.3 58C185 61.7 185.6 66 185.7 69.7C185.8 73.3 185.4 76.8 185 79.9C184.6 83.1 184.5 85.8 183.5 88.7C182.6 91.5 181.1 94.4 179.2 96.9C177.2 99.4 174.3 101.5 171.9 103.5C169.4 105.4 166.3 106.9 164.6 108.6C162.9 110.3 161.8 111.6 161.6 113.7C161.5 115.8 162.7 118.3 163.8 121C164.9 123.7 167.2 126.5 168.2 129.8C169.3 133 169.8 138.9 170.1 140.7"/><path stroke="#92c5e0" d="M162.1 21.2C163.5 22.5 167.8 26.5 170.4 28.8C173 31.2 175.7 33.6 177.7 35.4C179.6 37.2 181.3 39 182.1 39.8"/><path stroke="#3587c4" d="M165.7 20.1C167 21.2 171.1 24.7 173.3 26.6C175.5 28.6 177.9 30.9 178.9 31.7"/><path stroke="#2166ac" d="M169.4 19C170.3 19.9 173.3 22.9 174.8 24.4C176.2 25.9 177.5 27.5 178 28.1"/><path stroke="#08306b" d="M171.6 18.3L176.5 23"/><path stroke="#62a8d3" d="M200.3 94.1C198.7 94.4 193.6 94.4 190.8 95.4C188 96.5 185.5 98.5 183.5 100.6C181.6 102.6 180.1 105.2 179.2 107.9C178.2 110.5 177.5 113.5 177.7 116.6C177.9 119.8 179.8 123.1 180.6 126.8C181.4 130.5 182.1 136.8 182.4 138.8"/><path stroke="#2166ac" d="M201.8 100C200.4 100.2 196.1 100.5 193.8 101.3C191.4 102.1 189.5 103.2 187.9 104.9C186.3 106.6 184.7 109.1 184.3 111.5C183.8 113.9 184 116.7 185 119.5C186 122.3 188.3 125.7 190.1 128.3C191.9 130.9 195 134.1 195.9 135.3"/><path stroke="#08306b" d="M203.2 106.7C202 106.8 197.9 106.3 195.9 107.1C194 107.9 192.3 109.9 191.6 111.5C190.8 113.1 190.7 114.8 191.6 116.6C192.4 118.4 193.9 120.7 196.7 122.5C199.5 124.2 206.4 126.3 208.4 127.1"/></g>
<g class="er"><path d="M92.1 65.3L106.9 82.9"/><path d="M124.9 57.4L132.7 79"/><path d="M61.3 100L69.2 121.6"/><path d="M97.4 108.6L116.3 121.8"/><path d="M115.8 137.5L138.8 137.5"/><path d="M171.8 105.7L186.5 88.1"/></g>
</g>
<use href="#frame"/>
<g clip-path="url(#fr)"><g mask="url(#frm)"><use href="#c7"/></g>
<g class="cl"><text transform="translate(99.5 74.1) rotate(50)" y="3.3">1016</text><text transform="translate(128.8 68.2) rotate(70)" y="3.3">1020</text><text transform="translate(65.2 110.8) rotate(70)" y="3.3">1018</text><text transform="translate(106.8 115.2) rotate(35)" y="3.3">1018</text><text transform="translate(127.3 137.5) rotate(0)" y="3.3">1016</text><text transform="translate(179.2 96.9) rotate(-50)" y="3.3">1014</text></g>
</g>
</g>
<g transform="translate(225 320.7)">
<use href="#ticks"/>
<text x="114.3" y="18.8" text-anchor="middle" font-weight="bold" font-size="17">Day 8</text>
<g clip-path="url(#fr)">
<use href="#coast"/>
<g class="c" id="c8"><path stroke="#7ab8dc" d="M60.4 45.2C61 43.9 62.6 40.2 63.8 37.6C64.9 35 66.1 31.7 67.4 29.5C68.8 27.4 69.8 25.7 71.8 24.4C73.7 23.2 76.7 22.5 79.1 22.2C81.5 22 84.6 22.1 86.4 23C88.2 23.8 89.1 25.4 90 27.4C91 29.3 91.3 32.2 92.2 34.7C93.2 37.1 94.4 39.8 95.9 42C97.3 44.1 99.2 45.8 101 47.8C102.8 49.7 105.1 51.9 106.8 53.6C108.5 55.3 109.8 56.7 111.2 58C112.7 59.4 113.9 61.2 115.6 61.7C117.3 62.2 119.4 61.5 121.5 60.9C123.6 60.3 126.5 60.2 128.1 58C129.6 55.8 130.2 51.2 131 47.8C131.7 44.4 132.1 40.5 132.4 37.6C132.8 34.7 133.2 32.4 133.2 30.3C133.2 28.1 132.6 25.7 132.4 24.7"/><path stroke="#7ab8dc" d="M102.5 24.1C102.6 25.7 102.5 30.6 103.2 33.2C103.9 35.8 105 38.2 106.8 39.8C108.7 41.3 111.9 42.7 114.1 42.7C116.3 42.7 118.6 41.3 120 39.8C121.3 38.2 121.7 35.7 122.2 33.2C122.6 30.7 122.5 26.1 122.6 24.7"/><path stroke="#f4a582" d="M54 57.6C55.5 57 60.1 55.3 63 54.4C66 53.5 68.9 52.7 71.8 52.2C74.7 51.7 77.6 51.3 80.6 51.4C83.5 51.6 86.6 52.3 89.3 52.9C92 53.5 94.4 54.1 96.6 55.1C98.8 56.1 100.6 57.3 102.5 58.7C104.3 60.2 106.1 62.2 107.6 63.9C109 65.6 109.9 67.7 111.2 69C112.5 70.2 113.5 70.9 115.6 71.2C117.7 71.4 120.6 70.9 123.7 70.4C126.7 69.9 131.2 70.1 133.9 68.2C136.6 66.4 138.5 62.6 139.7 59.5C141 56.3 140.6 52.9 141.2 49.3C141.8 45.6 142.4 41 143.4 37.6C144.4 34.2 146 31.1 147 28.8C148.1 26.5 149.1 24.6 149.5 23.7"/><path stroke="#ef8a62" d="M51.6 64.6C53.1 64.7 57.5 64.6 60.1 65.3C62.7 66 65.3 67.9 67.4 69C69.5 70.1 69.7 71.4 72.5 71.9C75.3 72.4 80.3 72.5 84.2 71.9C88.1 71.2 93.1 68.4 95.9 67.9C98.7 67.5 99.7 68.1 101 69.3C102.3 70.4 103.5 72.7 103.9 74.8C104.4 76.9 104.2 79.8 103.6 82.1C103.1 84.4 101.9 86.8 100.7 88.4C99.5 90 96.5 90.6 96.3 91.6C96.1 92.6 97.8 94.5 99.5 94.2C101.3 94 104.4 91.9 106.8 90.1C109.3 88.4 111.7 85.4 114.1 83.6C116.6 81.7 120.3 80 121.4 79.2C122.5 78.3 119.2 79.5 120.8 78.5C122.4 77.4 127.8 74.3 131 72.6C134.1 70.9 137.1 69.9 139.7 68.2C142.4 66.5 145.2 64.8 147 62.4C148.9 60 149.8 56.6 150.7 53.6C151.5 50.7 151.3 47.3 152.1 44.9C153 42.4 154.2 40.3 155.8 39C157.4 37.8 159.6 37.1 161.6 37.6C163.7 38.1 166.3 40 168.2 42C170.2 43.9 171.5 46.8 173.3 49.3C175.1 51.7 177.5 53.9 179.2 56.6C180.9 59.2 182.6 62.4 183.5 65.3C184.5 68.2 185.2 71.2 185 74.1C184.7 77 183.8 80.4 182.1 82.8C180.4 85.3 177.5 87.5 174.8 88.7C172.1 89.9 168.9 90.3 166 90.1C163.1 90 159.9 88.7 157.3 87.9C154.6 87.2 152.4 86.1 150 85.8C147.5 85.4 144.8 85.3 142.7 85.8C140.5 86.2 138.3 87.2 136.8 88.7C135.4 90.1 134.5 91.8 133.9 94.5C133.3 97.2 133.1 101.9 133.2 104.9C133.2 108 134.4 110.8 134.2 113C133.9 115.1 133 117.1 131.7 117.8C130.4 118.5 128.3 118 126.6 117.3C124.9 116.7 123.6 115.2 121.5 114C119.4 112.8 116.6 111.4 114.2 110C111.7 108.7 109.3 107 106.8 105.7C104.4 104.3 102 103.2 99.5 102C97.1 100.8 94.7 99.1 92.2 98.4C89.8 97.6 87.4 97.3 84.9 97.6C82.5 98 79.8 99.1 77.6 100.6C75.4 102 73.5 104.2 71.8 106.4C70.1 108.6 69.1 111 67.4 113.7C65.7 116.4 63.8 119.8 61.6 122.5C59.4 125.1 57.1 127.6 54.3 129.8C51.4 131.9 46 134.4 44.4 135.3"/><path stroke="#f4a582" d="M51.4 137.8C53.1 136.7 58.7 133.5 61.6 131.2C64.5 128.9 66.9 126.3 68.9 123.9C70.8 121.5 71.8 118.7 73.3 116.6C74.7 114.5 75.7 112.6 77.6 111.5C79.6 110.4 82.7 109.9 84.9 110C87.1 110.2 89.1 111.1 90.8 112.2C92.5 113.3 93.8 114.9 95.2 116.6C96.5 118.3 98.1 120.3 98.8 122.5C99.5 124.6 99.7 127.2 99.5 129.8C99.4 132.3 98.3 135.6 97.8 137.8C97.3 140 96.8 142 96.6 142.9"/><path stroke="#f4a582" d="M106.2 142.9C108.1 142.4 114.4 140.6 117.8 140C121.2 139.4 123.4 139.7 126.6 139.2C129.8 138.8 134 138.1 136.8 137.1C139.6 136 141.8 134.6 143.4 132.7C145 130.7 145.7 128 146.3 125.4C146.9 122.7 147 119.8 147 116.6C147 113.5 146.1 109.2 146.3 106.4C146.5 103.6 147.2 101.3 148.5 99.8C149.8 98.4 151.9 97.8 154.3 97.6C156.8 97.5 160.2 99 163.1 99.1C166 99.2 168.9 99.1 171.9 98.4C174.8 97.6 177.9 95.9 180.6 94.7C183.3 93.5 185.2 91.9 187.9 91.1C190.6 90.3 195.2 90.1 196.7 89.9"/><path stroke="#7ab8dc" d="M61.3 139.2C62.5 138.4 66.6 136.2 68.9 134.1C71.1 132.1 73 128.8 74.7 126.8C76.4 124.9 77.5 123.4 79.1 122.5C80.7 121.5 82.9 120.9 84.2 121C85.5 121.1 86.8 122 87.1 123.2C87.5 124.4 87 126.5 86.4 128.3C85.8 130.1 84.9 131.9 83.5 134.1C82.1 136.4 79 140.5 78.1 141.7"/><path stroke="#b2182b" d="M49.6 72.9C50.7 73.6 54.6 75.1 56.5 77C58.3 78.9 59.8 81.6 60.8 84.3C61.9 87 62.7 90.6 63 93.1C63.4 95.5 63.4 96.1 63 99.1C62.7 102 62.8 106.9 60.8 110.8C58.9 114.7 54.2 119.7 51.4 122.5C48.6 125.3 46.7 126 44.1 127.6C41.4 129.1 36.8 131.2 35.3 131.9"/><path stroke="#67001f" d="M45.8 83.1C46.6 84.3 49.6 87.5 50.6 90.1C51.7 92.8 52.2 96.2 52.1 98.9C52 101.6 51 103.9 49.9 106.4C48.8 108.9 47.2 111.5 45.5 113.7C43.8 115.9 41.7 117.8 39.7 119.5C37.6 121.2 34.2 123.2 33.1 123.9"/><path stroke="#be0f2d" d="M163.4 61C163.7 60.5 169.1 58.9 169.7 59.2C170.3 59.5 178.1 67.2 178.3 68C178.5 68.8 175 77.6 174.6 78C174.2 78.4 168 79.4 167.5 79.2C167 79 161.8 72.8 161.6 72.1C161.4 71.4 163.1 61.5 163.4 61Z"/><path stroke="#f4a582" d="M161.3 22.7C162.6 24.2 166.7 28.8 168.9 31.7C171.2 34.7 172.9 37.8 174.8 40.5C176.6 43.2 178.1 45.3 179.9 47.8C181.7 50.3 184.7 54.2 185.7 55.5"/><path stroke="#7ab8dc" d="M170.7 20.4C171.4 21.8 173.2 26.1 174.8 28.8C176.3 31.6 179 35.5 179.9 36.8"/><path stroke="#7ab8dc" d="M198.1 93.7C196.9 94 193.3 94.7 190.8 95.4C188.4 96.2 186 97.3 183.5 98.4C181.1 99.5 179 100.6 176.2 102C173.4 103.5 169.7 104.7 166.7 107.1C163.8 109.6 159.9 113.6 158.7 116.6C157.5 119.7 159 122.5 159.4 125.4C159.9 128.3 160.9 131.3 161.6 134.1C162.4 136.9 163.7 140.8 164.1 142.2"/><path stroke="#62a8d3" d="M199.6 98.1C198.3 98.2 194 98.3 191.6 99.1C189.1 99.9 187.1 101.3 185 102.7C182.9 104.2 180.6 106 179.2 107.9C177.7 109.7 176.8 111.3 176.2 113.7C175.6 116.1 175.5 119.5 175.5 122.5C175.5 125.4 176 128.2 176.2 131.2C176.5 134.2 177 138.8 177.1 140.3"/><path stroke="#2166ac" d="M201.1 101.7C199.8 101.9 195.9 102.1 193.8 102.7C191.6 103.4 189.6 104.2 187.9 105.7C186.2 107.1 184.4 109.4 183.5 111.5C182.7 113.6 182.4 115.5 182.8 118.1C183.2 120.6 184.4 123.7 185.7 126.8C187 129.9 189.7 135.1 190.5 136.8"/><path stroke="#08306b" d="M202.5 106.1C201.4 106.3 197.9 106.5 195.9 107.1C194 107.8 192 108.7 190.8 110C189.6 111.4 188.6 113.3 188.6 115.2C188.6 117 189.5 119 190.8 121C192.2 122.9 193.8 125.1 196.7 126.8C199.6 128.6 206.4 130.8 208.4 131.7"/></g>
<g class="er"><path d="M72.7 71.9L95.7 71.9"/><path d="M107.7 60.5L130.7 60.5"/><path d="M109.9 71.9L132.9 71.9"/><path d="M55.1 120.7L66.6 100.8"/><path d="M158.6 115.3L174.9 99"/><path d="M88.4 138.2L110.6 144.1"/></g>
</g>
<use href="#frame"/>
<g clip-path="url(#fr)"><g mask="url(#frm)"><use href="#c8"/></g>
<g class="cl"><text transform="translate(84.2 71.9) rotate(0)" y="3.3">1018</text><text transform="translate(119.2 60.5) rotate(0)" y="3.3">1014</text><text transform="translate(121.4 71.9) rotate(0)" y="3.3">1016</text><text transform="translate(60.8 110.8) rotate(-60)" y="3.3">1020</text><text transform="translate(166.7 107.1) rotate(-45)" y="3.3">1014</text><text transform="translate(99.5 141.1) rotate(15)" y="3.3">1016</text></g>
</g>
</g>
<g transform="translate(450 320.7)">
<use href="#ticks"/>
<text x="121.3" y="18.8" text-anchor="middle" font-weight="bold" font-size="17">Day 9</text>
<g clip-path="url(#fr)">
<use href="#coast"/>
<g class="c" id="c9"><path stroke="#7ab8dc" d="M62.7 31C63.4 31.9 66 34.2 66.7 36.1C67.4 38.1 67.7 40.6 67.1 42.7C66.5 44.8 64.6 47.1 63 48.5C61.5 50 58.5 51 57.6 51.4"/><path stroke="#f4a582" d="M65.7 23C66.4 24.4 68.9 28.8 70.3 31.7C71.8 34.7 73.8 37.8 74.4 40.5C75 43.2 74.8 45.7 74 47.8C73.2 49.9 71.4 51.5 69.6 52.9C67.8 54.3 65.5 55.4 63 56.3C60.5 57.2 56 58 54.6 58.3"/><path stroke="#ef8a62" d="M75.4 19.8C75.6 21.3 75.6 26.1 76.2 28.8C76.8 31.5 78 33.9 79.1 36.1C80.2 38.3 81.9 39.4 82.7 42C83.6 44.5 85.3 48.3 84.2 51.4C83.1 54.6 78.7 58.9 76.2 60.9C73.6 63 71.3 63.1 68.9 63.9C66.4 64.6 64.3 65 61.6 65.3C58.9 65.6 54 65.7 52.5 65.8"/><path stroke="#b2182b" d="M87.1 30.3C87.4 28.8 89.9 28.1 92.2 27.4C94.5 26.6 98.3 25.7 101 25.9C103.7 26.1 106.3 27.2 108.3 28.8C110.2 30.4 111.5 33 112.7 35.4C113.9 37.8 114.7 41 115.6 43.4C116.4 45.8 117.8 47.9 117.8 50C117.8 52.1 117.4 54.2 115.6 55.8C113.8 57.4 109 59.4 106.8 59.5C104.6 59.6 103.7 58 102.5 56.6C101.2 55.1 100.7 52.9 99.5 50.7C98.3 48.5 96.6 45.8 95.2 43.4C93.7 41 92.1 38.3 90.8 36.1C89.4 33.9 86.9 31.7 87.1 30.3Z"/><path stroke="#ef8a62" d="M115.2 24.7C115.6 26.1 116.8 30.7 117.8 33.2C118.9 35.7 120 37.8 121.5 39.8C122.9 41.7 125.1 42.6 126.6 44.9C128.1 47.2 129.5 51.2 130.2 53.6C131 56 131 56.8 131.3 59.2C131.5 61.7 131.4 65.9 131.7 68.4C132 71 133.4 72.7 133.3 74.6C133.2 76.4 132.2 77.8 131.3 79.7C130.3 81.6 128.7 83.9 127.6 85.8C126.5 87.7 125.1 89.2 124.6 90.9C124 92.6 124.3 94.2 124.6 96C124.8 97.9 126 100.1 126.2 102.2C126.3 104.2 126.3 107.3 125.6 108.3C124.9 109.3 123.3 109.1 122.1 108.3C120.9 107.4 119.3 104.9 118.4 103.2C117.6 101.5 116.8 99.9 117 98.1C117.1 96.2 118.5 94.2 119.4 91.9C120.4 89.7 121.5 87 122.5 84.8C123.5 82.6 125.1 80.5 125.6 78.7C126.1 76.8 126.3 74.7 125.6 73.5C124.9 72.4 123.2 71.7 121.5 71.5C119.8 71.3 118 70.9 115.4 72.1C112.7 73.3 109.2 76.6 105.4 78.7C101.5 80.7 95.6 83.2 92.2 84.5C88.8 85.8 87.4 85.7 84.9 86.7C82.5 87.7 80.1 88.5 77.6 90.3C75.2 92.2 72.8 94.5 70.3 97.6C67.9 100.8 65.5 105.9 63 109.3C60.6 112.7 58.4 115.4 55.7 118.1C53.1 120.8 49.9 123.1 47 125.4C44 127.7 39.4 130.8 37.9 131.9"/><path stroke="#f4a582" d="M121.1 24.7C122.2 26.4 125.7 31.5 128.1 34.7C130.4 37.8 133.2 40.5 135.4 43.4C137.5 46.3 139.5 49.5 141.2 52.2C142.9 54.9 144.4 57.3 145.6 59.5C146.7 61.7 147.8 63.2 148.1 65.4C148.3 67.5 147.7 70.1 147 72.5C146.4 74.9 145 77.5 144 79.7C142.9 81.9 141.6 83.8 140.9 85.8C140.2 87.9 139.5 89.7 139.9 91.9C140.2 94.2 141.8 96.9 142.9 99.1C144.1 101.3 146.2 103.2 147 105.2C147.9 107.3 148.2 109.3 148.1 111.4C147.9 113.4 147.4 115.8 146 117.5C144.7 119.2 141.9 120.6 139.9 121.6C137.9 122.5 137.1 122.6 133.9 123.2C130.7 123.8 124.4 124.8 120.8 125.4C117.1 126 114.6 126.1 112 126.8C109.4 127.6 107.2 130.2 105.4 129.8C103.5 129.3 102 125.6 101 123.9C100 122.2 100.3 121.2 99.5 119.5C98.8 117.8 97.8 116 96.6 113.7C95.4 111.4 93.9 107.9 92.2 105.7C90.5 103.5 88.6 101.5 86.4 100.6C84.2 99.7 81.3 99.5 79.1 100.3C76.9 101 75 102.9 73.3 104.9C71.6 106.9 70.6 109.6 68.9 112.2C67.2 114.9 65.2 118.3 63 121C60.8 123.7 58.5 126.1 55.7 128.3C53 130.5 48.2 133.2 46.7 134.1"/><path stroke="#7ab8dc" d="M126.3 24.7C127.1 26.1 129.2 30.8 131 33.2C132.7 35.6 134.9 37.1 136.8 39C138.8 41 139.3 41.2 142.7 44.9C146.1 48.5 152.1 57.8 157.3 60.9C162.4 64.1 169.2 63 173.3 63.9C177.5 64.7 179.3 65.3 182.1 66C184.9 66.8 188.8 67.9 190.1 68.2"/><path stroke="#62a8d3" d="M133.6 24.7C134.5 26.1 137 30.6 139 33.2C141 35.8 143.8 38.4 145.6 40.5C147.4 42.6 147.8 43.4 150 45.6C152.1 47.8 155.3 51.7 158.7 53.6C162.1 55.6 167.2 56.6 170.4 57.3C173.6 58 175 58.2 177.7 58C180.4 57.9 185 56.7 186.5 56.4"/><path stroke="#2166ac" d="M160.2 39C160.4 36.8 161.6 35.1 163.1 33.9C164.6 32.7 166.9 31.9 168.9 31.7C171 31.6 173.7 32 175.5 33.2C177.3 34.4 179.3 37 179.9 39C180.5 41.1 180.1 43.8 179.2 45.6C178.2 47.4 176 49.1 174 50C172.1 50.8 169.5 51.2 167.5 50.7C165.4 50.2 162.9 49 161.6 47.1C160.4 45.1 159.9 41.2 160.2 39Z"/><path stroke="#f4a582" d="M194.5 80.8C192.9 80.7 188.3 80.5 185 80.1C181.7 79.8 177.6 78.4 174.8 78.7C172 78.9 169.9 80.2 168.2 81.6C166.5 82.9 165.5 85 164.6 86.7C163.6 88.4 162.9 89.7 162.4 91.8C161.8 93.9 161.2 97 161.3 99.1C161.5 101.2 162 103 163.1 104.2C164.2 105.4 166.5 106.2 168.2 106.4C169.9 106.6 171.5 106.6 173.3 105.7C175.1 104.7 177.2 102.4 179.2 100.6C181.1 98.7 183 95.9 185 94.7C186.9 93.5 188.6 93.5 190.8 93.3C193 93.1 196.9 93.5 198.1 93.5"/><path stroke="#b2182b" d="M50.6 70.7C51.7 71.5 55.1 74 57.2 75.5C59.3 77.1 61.5 78.5 63 79.9C64.5 81.4 65.8 82.3 66.2 84.3C66.7 86.3 67.1 88.5 65.7 91.8C64.3 95.1 60.6 100.3 57.9 104.2C55.3 108.1 52.5 112.4 49.9 115.2C47.3 118 44.8 119.3 42.6 121C40.4 122.7 38.5 124.3 36.8 125.4C35.1 126.5 33.1 127.2 32.4 127.6"/><path stroke="#67001f" d="M45.8 82.3C46.4 83.4 48.9 86.3 49.2 88.9C49.5 91.4 48.6 95 47.7 97.6C46.9 100.3 45.4 102.7 44.1 104.9C42.7 107.1 40.9 109.5 39.7 110.8C38.5 112 37.2 112.2 36.8 112.5"/><path stroke="#7ab8dc" d="M54 137.1C55.3 136.1 59.3 133.4 61.6 131.2C63.8 129 65.7 126.1 67.4 123.9C69.1 121.7 69.8 120 71.8 118.1C73.7 116.1 76.4 112.7 79.1 112.2C81.8 111.7 85.9 113.7 87.9 115.2C89.8 116.6 90.2 118.8 90.8 121C91.4 123.2 91.6 125.9 91.5 128.3C91.4 130.7 90.6 133.2 90 135.6C89.5 138 88.6 141.4 88.3 142.6"/><path stroke="#3587c4" d="M75.4 121.7C76 121 82.5 121.1 82.7 121.7C82.9 122.3 78.9 129.8 78.4 130.5C77.8 131.2 74.9 133.3 74.7 132.7C74.5 132.1 74.9 122.5 75.4 121.7Z"/><path stroke="#3587c4" d="M63 138.5C64.1 138.1 67.5 136 69.6 136.3C71.7 136.7 74.5 139.8 75.4 140.6"/><path stroke="#7ab8dc" d="M100.3 144.1C101.8 143.6 106.7 142.1 109.8 141.4C112.8 140.8 116.7 140.5 118.5 140C120.3 139.4 118.7 138.8 120.8 138.2C122.8 137.7 127.6 136.6 131 136.8C134.4 136.9 137.4 137.8 141.2 138.9C145 140.1 151.5 142.7 153.6 143.5"/><path stroke="#7ab8dc" d="M199.6 97.9C198.1 98.1 193.3 98.4 190.8 99.1C188.4 99.8 186.7 100.6 185 102C183.3 103.5 182.7 105.2 180.6 107.9C178.5 110.5 175.5 114.2 172.6 118.1C169.7 122 165.4 127.8 163.1 131.2C160.8 134.6 160.3 136.4 158.7 138.5C157.1 140.7 154.5 143.1 153.6 144.1"/><path stroke="#62a8d3" d="M201.1 101.6C199.8 101.7 195.9 101.3 193.8 102C191.6 102.7 189.6 104 187.9 105.7C186.2 107.4 184.7 109.7 183.5 112.2C182.3 114.8 181.8 117.8 180.6 121C179.4 124.2 177.9 127.8 176.2 131.2C174.6 134.6 171.7 139.7 170.8 141.4"/><path stroke="#2166ac" d="M202.5 106C201.3 106 197.3 105.7 195.2 106.4C193.1 107.1 191.4 108.3 190.1 110C188.8 111.7 187.9 114.1 187.2 116.6C186.5 119.2 186.4 121.8 185.7 125.4C185 128.9 183.5 135.8 183.1 137.9"/><path stroke="#08306b" d="M204 109.6C202.9 109.8 199.1 110.1 197.4 110.8C195.7 111.5 194.7 112 193.8 113.7C192.9 115.4 192.2 118.6 192 121C191.8 123.4 192.1 125.8 192.3 128.3C192.5 130.8 193.1 134.7 193.3 136"/></g>
<g class="er"><path d="M78.5 61.4L90 41.5"/><path d="M105.2 60.7L126 51"/><path d="M94.9 83.5L115.8 73.8"/><path d="M50.5 113L65.3 95.4"/><path d="M67.8 113.5L90.4 109.5"/><path d="M94.6 125.8L116.2 133.7"/><path d="M146.6 56.6L167.9 65.2"/><path d="M148.3 48.8L169.1 58.5"/><path d="M156.5 45.5L164.4 23.9"/><path d="M159.4 102.7L165.3 80.5"/><path d="M165.2 126.9L180 109.3"/></g>
</g>
<use href="#frame"/>
<g clip-path="url(#fr)"><g mask="url(#frm)"><use href="#c9"/></g>
<g class="cl"><text transform="translate(84.2 51.4) rotate(-60)" y="3.3">1018</text><text transform="translate(115.6 55.8) rotate(-25)" y="3.3">1020</text><text transform="translate(105.4 78.7) rotate(-25)" y="3.3">1018</text><text transform="translate(57.9 104.2) rotate(-50)" y="3.3">1020</text><text transform="translate(79.1 111.5) rotate(-10)" y="3.3">1014</text><text transform="translate(105.4 129.8) rotate(20)" y="3.3">1016</text><text transform="translate(157.3 60.9) rotate(22)" y="3.3">1014</text><text transform="translate(158.7 53.6) rotate(25)" y="3.3">1012</text><text transform="translate(160.5 34.7) rotate(-70)" y="3.3">1010</text><text transform="translate(162.4 91.6) rotate(-75)" y="3.3">1016</text><text transform="translate(172.6 118.1) rotate(-50)" y="3.3">1014</text></g>
</g>
</g>
<g transform="translate(0 481)">
<use href="#ticks"/>
<text x="115.2" y="19.5" text-anchor="middle" font-weight="bold" font-size="17">Day 10</text>
<g clip-path="url(#fr)">
<use href="#coast"/>
<g class="c" id="c10"><path stroke="#f4a582" d="M65.7 27.8C66.7 28.3 70.3 29.6 71.8 31C73.3 32.4 74.5 34.1 74.7 36.1C75 38 74.2 41 73.3 42.7C72.3 44.4 70.6 45.6 68.9 46.3C67.2 47 64.6 47 63 47C61.5 47.1 60 46.8 59.4 46.7"/><path stroke="#ef8a62" d="M71.5 19.3C72.5 20.3 75.8 22.9 77.6 25.1C79.5 27.3 81.6 30.1 82.7 32.4C83.8 34.7 84.6 36.7 84.2 39C83.8 41.3 82.1 44 80.6 46.3C79 48.6 76.9 51.2 74.7 52.9C72.5 54.6 70.3 56 67.4 56.5C64.5 57 58.9 55.9 57.2 55.8"/><path stroke="#d6001f" d="M86.8 21.9C87.4 23.2 89.1 27 90 29.5C90.9 32 92.2 34.1 92.2 36.8C92.2 39.5 91.1 42.7 90 45.6C88.9 48.5 88 51.2 85.7 54.3C83.4 57.5 78.7 62.4 76.2 64.6C73.6 66.7 72.5 67.1 70.3 67.5C68.1 67.8 65.8 67.5 63 66.7C60.3 66 55.5 63.5 54 62.8"/><path stroke="#b2182b" d="M101 33.9C101.6 31.7 102.5 29.4 103.9 28.1C105.4 26.7 107.6 25.9 109.8 25.9C111.9 25.9 114.9 26.5 117.1 28.1C119.2 29.6 121.8 33.4 122.9 35.4C124 37.3 122.9 37.8 123.7 39.7C124.4 41.7 126.6 45.1 127.3 47C128.1 49 128.9 50 128.1 51.4C127.2 52.9 124.3 54.6 122.2 55.8C120.1 57 118.2 58.7 115.6 58.4C113 58.2 109 56 106.8 54.3C104.6 52.7 103.5 50.7 102.5 48.5C101.4 46.3 100.5 43.6 100.3 41.2C100 38.8 100.4 36.1 101 33.9Z"/><path stroke="#67001f" d="M111.8 42.1C112.2 41.7 113.5 41.2 114.1 41.3C114.7 41.5 115.4 42.5 115.3 42.9C115.2 43.4 114 44 113.4 44.1C112.8 44.2 112.1 43.7 111.8 43.4C111.5 43 111.4 42.4 111.8 42.1Z"/><path stroke="#d6001f" d="M122.7 25.4C123.1 26.8 124 31.3 125.1 33.9C126.3 36.5 127.8 39 129.5 41.2C131.2 43.4 133.2 45.6 135.4 47C137.5 48.5 140 49.3 142.7 50C145.3 50.6 148.7 50 151.4 50.7C154.1 51.4 156.4 52.4 158.7 54.3C161 56.3 165 60.3 165.3 62.4C165.5 64.4 162.7 65.4 160.2 66.7C157.6 68.1 153.1 69.3 150 70.4C146.8 71.5 143.4 73.3 141.2 73.3C139 73.3 138.5 71.6 136.8 70.4C135.1 69.2 133.2 67.2 131 66C128.8 64.8 126.1 63.7 123.7 63.1C121.2 62.5 117.2 62.2 116.4 62.4C115.5 62.5 119.6 63.2 118.5 63.8C117.4 64.4 113.4 64.7 109.8 66C106.1 67.4 101 70.2 96.6 71.9C92.2 73.6 86.9 75 83.5 76.2C80.1 77.5 78.1 77.7 76.2 79.2C74.2 80.6 73.3 82.5 71.8 85C70.3 87.5 69.1 91 67.4 94C65.7 96.9 63.8 99.8 61.6 102.7C59.4 105.6 57 108.8 54.3 111.5C51.6 114.2 48.2 116.6 45.5 118.8C42.8 121 40.5 122.7 38.2 124.6C35.9 126.5 32.7 129.1 31.6 130"/><path stroke="#b2182b" d="M51.1 71.1C52.1 72 55.6 74.2 57.2 76.2C58.8 78.3 60.2 80.9 60.8 83.5C61.5 86.2 61.5 89.6 60.8 92.3C60.2 95 59 97.6 57.2 99.8C55.4 102 52.3 103.8 49.9 105.6C47.5 107.5 44.8 109.3 42.6 110.7C40.4 112.2 37.7 113.8 36.8 114.4"/><path stroke="#67001f" d="M45.2 86.7L46.7 89.9"/><path stroke="#ef8a62" d="M127 25.4C127.6 26.8 128.9 31.5 130.2 33.9C131.6 36.3 133.5 38.3 135.4 39.7C137.2 41.2 139 42.3 141.2 42.7C143.4 43 146.1 42.4 148.5 41.9C150.9 41.4 153.6 40.5 155.8 39.7C158 39 159.8 37.4 161.6 37.5C163.5 37.7 165.3 38.9 166.7 40.5C168.2 42 169.2 44.5 170.4 47C171.6 49.6 173.1 52.9 174 55.8C175 58.7 176.4 61.9 176.2 64.6C176.1 67.2 175 69.9 173.3 71.9C171.6 73.8 168.9 75 166 76.2C163.1 77.5 159 78.2 155.8 79.2C152.6 80.1 149.7 80.8 147 82.1C144.4 83.3 141.7 84.9 139.7 86.7C137.8 88.4 136.3 89.8 135.4 92.5C134.4 95.2 133.9 99.6 133.9 102.7C133.9 105.9 135.6 109 135.4 111.5C135.1 113.9 134.1 115.6 132.4 117.3C130.7 119 127.6 120.2 125.1 121.7C122.7 123.2 120 124.9 117.8 126.1C115.6 127.3 114.3 127.9 112 129C109.7 130.1 106.6 133.1 103.9 132.6C101.2 132.2 97.5 127.9 95.9 126.1C94.3 124.2 95 123.6 94.4 121.7C93.8 119.7 92.8 117.3 92.2 114.4C91.6 111.5 90.9 107.6 90.8 104.2C90.7 100.8 91.7 96.5 91.5 94C91.3 91.4 90.7 89.8 89.3 88.8C88 87.9 85.4 87.9 83.5 88.1C81.5 88.4 79.6 89 77.6 90.3C75.7 91.6 73.7 93.8 71.8 96.1C69.8 98.5 68.1 101.1 66 104.2C63.8 107.2 61.3 111 58.7 114.4C56 117.8 52.9 121.5 49.9 124.6C46.9 127.7 42.4 131.5 40.8 132.9"/><path stroke="#f4a582" d="M133.6 24.8C134.3 26.1 136 30.6 137.5 32.4C139.1 34.3 140.6 35.5 142.7 36.1C144.7 36.7 147.5 36.6 150 36.1C152.4 35.6 154.8 34 157.3 33.2C159.7 32.3 162.2 30.9 164.6 31C166.9 31.1 169.3 32.2 171.1 33.9C172.9 35.6 174.2 38.5 175.5 41.2C176.8 43.9 177.9 46.8 179.2 50C180.4 53.1 182.1 57 182.8 60.2C183.5 63.3 183.9 66 183.5 68.9C183.2 71.9 182.3 75.3 180.6 77.7C178.9 80.1 176 82 173.3 83.5C170.6 85.1 167.5 86.5 164.6 87.2C161.6 87.9 158.1 87.3 155.8 87.9C153.5 88.6 151.8 89.3 150.7 91C149.6 92.8 148.6 95.9 149.2 98.3C149.8 100.8 152.3 103.4 154.3 105.6C156.4 107.8 159.7 109.3 161.6 111.5C163.6 113.7 165 116.1 166 118.8C167 121.5 167.7 124.9 167.5 127.5C167.2 130.2 166 132.8 164.6 134.8C163.1 136.9 160.9 138.8 158.7 139.9C156.5 141 153.8 141.5 151.4 141.4C149 141.3 147.4 140.1 144.1 139.2C140.8 138.3 135.6 136.2 131.7 136C127.8 135.8 124.4 136.7 120.8 137.8C117.1 138.8 113.5 141.3 109.8 142.1C106 142.9 101.5 142.6 98.1 142.6C94.7 142.5 91.2 142.6 89.3 141.8C87.4 141 86.9 140.6 86.7 137.8C86.4 134.9 87.9 128.3 87.9 124.6C87.8 121 87 118.4 86.4 115.9C85.8 113.3 85.2 111.1 84.2 109.3C83.2 107.5 81.9 105.5 80.6 104.9C79.2 104.3 77.9 104.8 76.2 105.6C74.5 106.5 72.3 108.1 70.3 110C68.4 112 66.7 114.4 64.5 117.3C62.3 120.2 59.8 124.4 57.2 127.5C54.6 130.6 50.3 134.5 48.9 135.9"/><path stroke="#7ab8dc" d="M135.8 25.4C136.6 26.4 138.8 29.8 140.5 31C142.1 32.1 143.8 32.6 145.6 32.4C147.4 32.3 149.2 31.2 151.4 30.2C153.6 29.3 156.3 27.6 158.7 26.6C161.1 25.6 163.6 24.5 166 24.4C168.4 24.3 171.4 24.8 173.3 25.9C175.3 27 176.6 28.7 177.7 31C178.8 33.3 179.2 36.6 179.9 39.7C180.6 42.9 181.1 46.8 182.1 50C183 53.1 184.6 55.8 185.7 58.7C186.8 61.6 188.3 64.6 188.6 67.5C189 70.4 188.5 73.8 187.9 76.2C187.3 78.7 186 80.8 185 82.1C184 83.3 182.9 81.9 182.1 83.7C181.3 85.6 181.1 89.6 180.3 93.2C179.6 96.9 178.3 101.6 177.7 105.6C177.1 109.6 176.7 114.2 177 117.3C177.2 120.5 179 121.9 179.2 124.6C179.3 127.3 178.5 130.7 177.7 133.4C176.9 136 174.8 139.2 174.2 140.4"/><path stroke="#7ab8dc" d="M142.4 25.4C143 25.2 145 24.6 146.3 24.3C147.6 23.9 149.6 23.5 150.2 23.4"/><path stroke="#7ab8dc" d="M167.2 20.2C167.7 20 169.3 19.5 170.4 19.3C171.5 19.1 173.1 19.1 173.6 19"/><path stroke="#7ab8dc" d="M202.5 106.7C201.3 106 197.3 103.1 195.2 102.7C193.1 102.3 191.3 102.7 190.1 104.2C188.9 105.6 188 108.8 187.9 111.5C187.8 114.2 188.9 117.3 189.4 120.2C189.9 123.2 191.2 126 190.8 129C190.5 132 187.9 136.5 187.3 138"/><path stroke="#7ab8dc" d="M57.6 138C58.8 136.8 62.6 133.2 64.5 130.5C66.4 127.7 67.3 124 68.9 121.7C70.5 119.4 72.3 117.6 74 116.6C75.7 115.6 77.6 115.2 79.1 115.9C80.6 116.5 82.3 118.3 82.7 120.2C83.2 122.2 82.6 125.1 82 127.5C81.4 130 80.1 132.4 79.1 134.8C78.1 137.3 76.7 141.2 76.2 142.4"/><path stroke="#d6001f" d="M98.1 106.4C98.3 105.6 103.1 100.4 103.9 99.8C104.7 99.2 109.2 97.7 109.8 97.6C110.3 97.6 112.7 98.5 112.7 99.1C112.7 99.6 110.3 104.8 109.8 105.6C109.2 106.5 105.3 111.9 104.6 112.2C104 112.5 100.7 111.1 100.3 110.7C99.8 110.4 97.8 107.1 98.1 106.4Z"/><path stroke="#d6001f" d="M113.1 91.5C113.1 91.1 116.6 89.2 117.1 89.3C117.5 89.3 120.3 91.7 120.3 92.1C120.2 92.4 117.1 94.6 116.6 94.5C116.1 94.5 113.1 91.8 113.1 91.5Z"/><path stroke="#7ab8dc" d="M122.5 143.3L133.9 143.4"/></g>
<g class="er"><path d="M79.1 63.8L92.3 44.9"/><path d="M86.2 76.7L107 67"/><path d="M111.4 59.7L133 51.9"/><path d="M92.7 130.3L115.2 135"/><path d="M120.2 135.6L143.2 135.6"/><path d="M177.3 104.3L183.3 82.1"/></g>
</g>
<use href="#frame"/>
<g clip-path="url(#fr)"><g mask="url(#frm)"><use href="#c10"/></g>
<g class="cl"><text transform="translate(85.7 54.3) rotate(-55)" y="3.3">1018</text><text transform="translate(96.6 71.9) rotate(-25)" y="3.3">1018</text><text transform="translate(122.2 55.8) rotate(-20)" y="3.3">1020</text><text transform="translate(103.9 132.6) rotate(12)" y="3.3">1016</text><text transform="translate(131.7 135.6) rotate(0)" y="3.3">1014</text><text transform="translate(180.3 93.2) rotate(-75)" y="3.3">1012</text></g>
</g>
</g>
<g transform="translate(225 481)">
<use href="#ticks"/>
<text x="114.3" y="19.5" text-anchor="middle" font-weight="bold" font-size="17">Day 11</text>
<g clip-path="url(#fr)">
<use href="#coast"/>
<g class="c" id="c11"><path stroke="#f4a582" d="M71.1 19C71.3 20.3 71.7 24.1 72.5 26.6C73.4 29.1 74.7 31.5 76.2 33.9C77.6 36.3 79.7 38.8 81.3 41.2C82.9 43.6 84.3 46.1 85.7 48.5C87 50.9 88.2 53.4 89.3 55.8C90.4 58.2 91.3 60.7 92.2 63.1C93.2 65.5 93.9 68.2 95.2 70.4C96.4 72.6 98.3 74.3 99.5 76.2C100.7 78.2 102.2 79.9 102.5 82.1C102.7 84.3 102 87.2 101 89.4C100 91.6 98.1 93.5 96.6 95.2C95.2 96.9 93.5 97.9 92.2 99.6C91 101.3 89.7 103.2 89.3 105.6C88.9 108.1 90.3 111.7 90 114.4C89.8 117.1 88.3 119.5 87.9 121.7C87.4 123.9 87.5 125.3 87.1 127.5C86.8 129.7 85.9 132.8 85.7 134.8C85.4 136.9 84.6 138.8 85.7 139.9C86.8 141.1 89.2 141.8 92.2 141.8C95.3 141.8 100 140.6 103.9 139.9C107.8 139.3 112.8 138.9 115.6 137.8C118.4 136.6 118.4 134.2 120.8 133.1C123.1 132 126.6 131.1 129.5 131.2C132.4 131.2 135.4 132.5 138.3 133.4C141.2 134.2 144.6 136 147 136.3C149.5 136.5 151.8 136 152.9 134.8C154 133.6 154.1 131.2 153.6 129C153.1 126.8 151.2 124.1 150 121.7C148.7 119.3 147.4 116.8 146.3 114.4C145.2 112 144.1 109.8 143.4 107.1C142.7 104.4 141.9 101 141.9 98.3C141.9 95.7 142 93 143.4 91C144.7 89.1 147.4 87.1 150 86.7C152.5 86.2 155.6 87.3 158.7 88.1C161.9 89 165.8 90.8 168.9 91.8C172.1 92.7 174.5 93.7 177.7 94C180.9 94.2 184.4 93.6 187.9 93.2C191.4 92.9 197 92.1 198.9 91.9"/><path stroke="#ef8a62" d="M82 21.1C82.1 22.5 82.1 26.9 82.7 29.5C83.4 32.1 84.4 34.4 85.7 36.8C86.9 39.3 88.5 41.7 90 44.1C91.6 46.5 93.6 49 95.2 51.4C96.7 53.8 98.3 56.3 99.5 58.7C100.7 61.1 101.2 63.6 102.5 66C103.7 68.4 105.4 71.1 106.8 73.3C108.3 75.5 110.2 77 111.2 79.2C112.2 81.3 112.9 84 112.7 86.5C112.4 88.9 111.2 91.6 109.8 93.8C108.3 95.9 105.6 97.6 103.9 99.6C102.2 101.6 100.7 103.4 99.5 105.6C98.3 107.9 97.1 110.3 96.6 112.9C96.1 115.6 96.2 119 96.6 121.7C97 124.4 97.8 127.2 98.8 129C99.8 130.7 100.7 131.5 102.5 132.2C104.2 132.9 106.8 133 109 132.9C111.2 132.9 114.1 133.2 115.6 131.9C117.1 130.6 116.5 127.3 117.8 125.3C119.2 123.4 122.2 122.1 123.7 120.2C125.1 118.4 126.2 116.8 126.6 114.4C127 112 125.6 108.6 125.9 105.6C126.1 102.7 127 99.6 128.1 96.9C129.2 94.2 130.7 92 132.4 89.6C134.1 87.1 136.3 84.5 138.3 82.3C140.2 80.1 141.9 78.4 144.1 76.4C146.3 74.5 149.2 71.9 151.4 70.6C153.6 69.3 155.3 68.4 157.3 68.4C159.2 68.4 160.9 69.3 163.1 70.6C165.3 71.9 168 74.7 170.4 76.4C172.8 78.1 175.3 80.2 177.7 80.8C180.1 81.4 183.3 81.1 185 80.1C186.7 79.1 187.9 76.9 187.9 75C187.9 73 186.5 70.2 185 68.4C183.5 66.6 181.6 64.9 179.2 64C176.7 63.2 173.3 63.5 170.4 63.3C167.5 63.1 164.1 63.3 161.6 62.6C159.2 61.8 157.5 60.3 155.8 58.7C154.1 57.1 153.4 54.8 151.4 52.9C149.5 50.9 146.5 49 144.1 47C141.7 45.1 138.9 43.4 136.8 41.2C134.7 39 133.1 36.5 131.7 33.9C130.3 31.3 129 26.8 128.5 25.4"/><path stroke="#d6001f" d="M90 23.4C90.3 24.9 90.8 29.5 91.5 32.4C92.2 35.4 93.3 38.3 94.4 41.2C95.5 44.1 96.7 47.3 98.1 50C99.4 52.6 100.7 55.1 102.5 57.3C104.2 59.4 106.3 61.4 108.3 63.1C110.2 64.8 112.5 65.8 114.1 67.5C115.7 69.2 116.2 72 117.8 73.3C119.4 74.6 121 74.8 123.7 75.1C126.4 75.3 131.5 75.3 133.9 74.8C136.3 74.2 136.6 73.3 138.3 71.9C140 70.4 142.7 68.2 144.1 66C145.6 63.8 146.9 60.9 147 58.7C147.2 56.5 146.3 54.8 144.8 52.9C143.4 50.9 140.6 49 138.3 47C136 45.1 133 43.4 131 41.2C128.9 39 127.3 36.5 125.9 33.9C124.5 31.3 123.2 26.8 122.7 25.4"/><path stroke="#b2182b" d="M98.1 24.8C98.2 26.4 98.4 30.9 98.8 33.9C99.2 36.9 99.4 39.7 100.3 42.7C101.1 45.6 102.5 48.9 103.9 51.4C105.4 54 107.1 56.3 109 58C111 59.7 113.9 60.8 115.6 61.6C117.3 62.5 117.7 63 119.3 63.1C120.9 63.2 123.2 62.9 125.1 62.4C127.1 61.9 129.5 61.3 131 60.2C132.4 59.1 133.7 57 133.9 55.8C134.1 54.6 133.4 54.3 132.4 52.9C131.5 51.4 129.6 49 128.1 47C126.5 45.1 124.5 43.4 122.9 41.2C121.4 39 119.8 36.5 118.6 33.9C117.3 31.3 115.9 26.8 115.4 25.4"/><path stroke="#67001f" d="M107.6 42.7C107.9 40.8 109.1 39 110.5 38.3C111.8 37.5 113.9 37.5 115.6 38.3C117.3 39 119.6 41 120.7 42.7C121.8 44.4 122.5 46.9 122.2 48.5C121.8 50.1 120.1 51.4 118.5 52.1C116.9 52.9 114.4 53.4 112.7 52.9C111 52.4 109.1 50.9 108.3 49.2C107.4 47.5 107.2 44.5 107.6 42.7Z"/><path stroke="#c9e0ef" d="M68.1 52.9C68.4 52.1 74 46.9 74.7 47C75.4 47.1 78.7 53.3 79.1 54.3C79.5 55.4 80.8 62.5 80.6 63.1C80.3 63.7 75.3 64.1 74.7 63.8C74.1 63.5 71.5 59.4 71.1 58.7C70.6 58 67.9 53.7 68.1 52.9Z"/><path stroke="#c9e0ef" d="M51.1 67.5C51.7 68.2 54.6 70.4 55 71.9C55.4 73.3 54.6 75.3 53.5 76.2C52.5 77.1 49.7 77.1 48.9 77.3"/><path stroke="#f4a582" d="M46.7 84.8C48 84.3 51.8 83.3 54.3 82.3C56.8 81.3 59.1 79.6 61.6 78.6C64 77.7 66.7 76.6 68.9 76.4C71.1 76.3 73.1 76.9 74.7 77.9C76.3 78.9 77.5 80.3 78.4 82.3C79.2 84.2 79.7 87.1 79.8 89.6C79.9 92 79.3 94.7 79.1 96.9C78.9 99.1 79 100 78.4 102.7C77.8 105.4 76.1 109.8 75.4 112.9C74.8 116.1 75.3 119 74.7 121.7C74.1 124.4 73.3 126.8 71.8 129C70.3 131.2 68 133.2 66 134.8C63.9 136.5 60.5 138.2 59.4 138.9"/><path stroke="#ef8a62" d="M45.2 90.5C46.7 90.3 51.6 90 54.3 89.6C57 89.2 59.4 88.5 61.6 88.1C63.8 87.8 65.8 86.9 67.4 87.4C69 87.9 70.5 89.2 71.1 91C71.7 92.9 71.2 95.9 71.1 98.3C70.9 100.8 71.1 102.5 70.3 105.6C69.6 108.8 67.9 114.2 66.7 117.3C65.5 120.5 64.6 122.4 63 124.6C61.5 126.8 59.4 128.5 57.2 130.5C55 132.4 50.9 135.2 49.6 136.1"/><path stroke="#d6001f" d="M43 95.4C44.4 95.5 48.8 95.7 51.4 96.1C54 96.6 56.8 97.2 58.7 98.3C60.5 99.4 61.8 100.8 62.3 102.7C62.8 104.7 62.1 107.8 61.6 110C61.1 112.2 61.3 113.2 59.4 115.9C57.4 118.5 52.5 123.6 49.9 126.1C47.3 128.5 46.1 129.2 44.1 130.5C42.1 131.7 38.9 133.3 37.9 133.8"/><path stroke="#b2182b" d="M40.8 103.9C41.5 104.4 44.1 105.3 44.8 107.1C45.4 108.8 45.6 112.2 44.8 114.4C43.9 116.6 41.6 118.6 39.7 120.2C37.8 121.9 34.6 123.6 33.5 124.3"/><path stroke="#f4a582" d="M134.3 25.4C134.9 26.6 136.2 30.3 137.5 32.4C138.9 34.6 140.6 36.2 142.7 38.3C144.7 40.3 147.3 43.1 150 44.8C152.6 46.5 154.8 47.2 158.7 48.5C162.6 49.8 169.7 52 173.3 52.9C177 53.7 178.4 53.4 180.6 53.6C182.8 53.8 185.5 54.2 186.5 54.3"/><path stroke="#c9e0ef" d="M139.4 24.8C140.1 25.9 141.6 29.1 143.4 31C145.1 32.9 147.4 34.5 150 36.1C152.5 37.7 155.6 39.3 158.7 40.5C161.9 41.7 165.8 42.8 168.9 43.4C172.1 44 175.4 44.1 177.7 44.1C180 44.2 182 43.8 182.8 43.7"/><path stroke="#92c5e0" d="M143.1 24.3C143.9 25.3 145.9 28.5 147.8 30.2C149.6 32 151.8 33.3 154.3 34.6C156.9 35.9 160.2 37.1 163.1 38C166 38.8 168.8 39.5 171.9 39.7C174.9 40 179.8 39.4 181.3 39.3"/><path stroke="#7ab8dc" d="M146.7 23.7C147.5 24.5 149.4 27.3 151.4 28.8C153.4 30.2 156 31.4 158.7 32.4C161.4 33.5 163.9 34.6 167.5 35.1C171 35.6 177.8 35.3 179.9 35.4"/><path stroke="#62a8d3" d="M151.1 22.7C151.9 23.3 153.8 25.4 155.8 26.6C157.8 27.8 160.4 29.1 163.1 29.8C165.8 30.5 169.2 30.9 171.9 31C174.5 31.1 177.9 30.6 179.2 30.5"/><path stroke="#3587c4" d="M155.5 21.5C156.5 22.1 159.4 24.6 161.6 25.4C163.9 26.3 166.3 26.5 168.9 26.6C171.6 26.6 176.2 25.9 177.7 25.7"/><path stroke="#2166ac" d="M161.3 20C162.4 20.3 165 21.7 167.5 21.9C170 22.1 174.8 21.4 176.2 21.3"/><path stroke="#c9e0ef" d="M200.3 97.9C198.7 98.2 193.9 99.2 190.8 99.8C187.8 100.4 185 100.8 182.1 101.3C179.2 101.7 175.7 102.5 173.3 102.7C170.9 102.9 169.2 102.1 167.5 102.4C165.8 102.8 164.3 103.5 163.1 104.9C161.9 106.3 160.7 108.7 160.2 110.7C159.7 112.8 159.2 115 160.2 117.3C161.1 119.6 164.2 122.4 166 124.6C167.8 126.8 170.5 128.3 171.1 130.5C171.7 132.6 170.4 135.6 169.7 137.8C169 139.9 167.4 142.4 166.9 143.3"/><path stroke="#7ab8dc" d="M201.8 102.3C200.2 102.4 195.1 102.4 192.3 103C189.5 103.6 187.2 104.2 185 105.6C182.8 107 180.2 109.3 179.2 111.5C178.1 113.7 177.7 116.6 178.4 118.8C179.2 121 182.1 122.7 183.5 124.6C185 126.6 186.9 128.6 187.2 130.5C187.4 132.3 186 133.9 185 135.6C184 137.2 182 139.6 181.3 140.4"/><path stroke="#3587c4" d="M203.2 107.4C201.9 107.5 197.4 107.1 195.2 107.8C193 108.5 191.1 109.9 190.1 111.5C189.1 113.1 188.8 115.6 189.4 117.3C190 119 192 120.2 193.8 121.7C195.5 123.2 197 124.7 199.6 126.1C202.1 127.4 207.5 129.1 209.1 129.7"/><path stroke="#c9e0ef" d="M114.2 143.3C115.8 142.9 120.6 141 123.7 140.7C126.7 140.4 129.9 140.8 132.4 141.4C135 142 137.9 143.8 139 144.3"/></g>
<g class="er"><path d="M147.9 44.6L169.5 52.4"/><path d="M114.3 66.3L135.9 58.4"/><path d="M112.4 73.1L135 77.1"/><path d="M76.7 114L80.7 91.4"/><path d="M68.3 117L72.3 94.3"/><path d="M52.8 125.3L66 106.4"/><path d="M86.1 139L88.1 116.1"/><path d="M97.5 132.9L120.5 132.9"/><path d="M154.4 116.6L165.9 96.7"/></g>
</g>
<use href="#frame"/>
<g clip-path="url(#fr)"><g mask="url(#frm)"><use href="#c11"/></g>
<g class="cl"><text transform="translate(158.7 48.5) rotate(20)" y="3.3">1016</text><text transform="translate(125.1 62.4) rotate(-20)" y="3.3">1022</text><text transform="translate(123.7 75.1) rotate(10)" y="3.3">1020</text><text transform="translate(78.7 102.7) rotate(-80)" y="3.3">1016</text><text transform="translate(70.3 105.6) rotate(-80)" y="3.3">1018</text><text transform="translate(59.4 115.9) rotate(-55)" y="3.3">1020</text><text transform="translate(87.1 127.5) rotate(-85)" y="3.3">1016</text><text transform="translate(109 132.9) rotate(0)" y="3.3">1018</text><text transform="translate(160.2 106.7) rotate(-60)" y="3.3">1014</text></g>
</g>
</g>
<g transform="translate(450 481)">
<use href="#ticks"/>
<text x="121.3" y="19.5" text-anchor="middle" font-weight="bold" font-size="17">Day 12</text>
<g clip-path="url(#fr)">
<use href="#coast"/>
<g class="c" id="c12"><path stroke="#62a8d3" d="M67.6 49.1C68.8 48.4 71.2 47.9 73.1 48.1C75 48.4 77.4 49.3 79.1 50.6C80.8 51.9 82.2 54 83.1 56.1C84 58.2 84.8 60.6 84.6 63.1C84.4 65.6 83.5 68.6 82.1 71.1C80.7 73.6 78.3 76.3 76.1 78.1C73.9 79.9 71.3 81.3 69.1 81.7C66.8 82.1 64.1 81.3 62.6 80.2C61.1 79.1 60.3 77.3 60 75.1C59.7 72.9 60.3 69.9 61 67.1C61.7 64.3 63.3 60.6 64.1 58.1C64.9 55.6 65 53.6 65.6 52.1C66.2 50.6 66.3 49.8 67.6 49.1Z"/><path stroke="#92c5e0" d="M65.1 45C66.6 44.3 69.6 43.3 72.1 43.5C74.6 43.7 77.8 44.7 80.1 46.1C82.4 47.5 84.6 49.8 86.1 52.1C87.6 54.4 88.6 57.6 89.1 60.1C89.6 62.6 89.6 64.6 89.1 67.1C88.6 69.6 87.8 72.4 86.1 75.1C84.4 77.8 81.8 81.2 79.1 83.2C76.4 85.2 73.1 86.7 70.1 87.2C67.1 87.7 63.4 87.4 61 86.2C58.6 85 56.6 82.4 55.5 80.2C54.4 78 54.2 75.9 54.5 73.1C54.8 70.2 55.9 66.4 57 63.1C58.1 59.8 60 55.7 61 53.1C62 50.5 62.4 49 63.1 47.6C63.8 46.2 63.6 45.7 65.1 45Z"/><path stroke="#c9e0ef" d="M62.1 40.5C64 39.6 67.9 38.7 71.1 38.5C74.3 38.3 78.3 38.4 81.1 39.5C83.9 40.6 86.2 42.7 88.1 45C90 47.3 91.6 50.2 92.6 53.1C93.6 56 94 59.3 94.1 62.1C94.2 64.9 93.9 67.2 93.1 70.1C92.3 72.9 90.9 76.3 89.1 79.2C87.3 82.1 84.8 85.1 82.1 87.2C79.4 89.3 76.4 90.9 73.1 91.7C69.8 92.5 65.5 92.8 62.1 92.2C58.8 91.6 55.2 89.7 53 88.2C50.8 86.7 49.3 86.4 49 83.2C48.7 80 49.8 73.9 51 69C52.2 64.1 54.5 58.2 56 54C57.5 49.8 59 46.2 60 44C61 41.8 60.2 41.4 62.1 40.5Z"/><path stroke="#f4a582" d="M61.9 34.9C63 34.3 66.2 31.8 68.9 31C71.5 30.2 74.7 30 77.6 30.2C80.6 30.5 83.8 31.1 86.4 32.4C88.9 33.8 91.3 35.8 93 38.3C94.7 40.7 95.5 44.4 96.6 47C97.7 49.7 97.8 51.4 99.5 54.3C101.2 57.3 104.5 61.4 106.8 64.6C109.1 67.7 112.2 70.6 113.4 73.3C114.6 76 114.5 77.9 114.1 80.6C113.8 83.3 112.7 86.9 111.2 89.4C109.8 91.8 107.1 94.5 105.4 95.2C103.7 95.9 102.5 94.7 101 93.8C99.5 92.8 98.1 90.7 96.6 89.4C95.2 88 93.9 86.2 92.2 85.7C90.5 85.2 88.6 85.6 86.4 86.5C84.2 87.3 82 89.4 79.1 90.8C76.2 92.3 72.5 94.6 68.9 95.2C65.2 95.8 60.4 95.1 57.2 94.5C54 93.9 52.1 92.7 49.9 91.6C47.7 90.5 45 88.5 44.1 87.9"/><path stroke="#d6001f" d="M81.3 20.5C82.6 21.2 87.2 23.4 89.3 25.1C91.4 26.9 92.2 28.5 93.7 31C95.2 33.4 96.4 36.6 98.1 39.7C99.8 42.9 102 46.8 103.9 50C105.9 53.1 107.8 56 109.8 58.7C111.7 61.4 113.6 63.6 115.6 66C117.5 68.4 120 70.6 121.4 73.3C122.9 76 124.1 79.2 124.4 82.1C124.6 85 123.4 87.9 122.9 90.8C122.4 93.8 122.1 97.1 121.5 99.8C120.9 102.5 120 104.7 119.3 107.1C118.6 109.5 117.7 112.1 117.1 114.4C116.5 116.7 114.9 120.6 115.6 121C116.4 121.3 119.4 117.8 121.5 116.6C123.6 115.4 126 115.2 128.1 113.7C130.1 112.1 133.3 109.2 133.9 107.1C134.5 105 132.9 103.1 131.7 101.3C130.5 99.4 126.5 98.6 126.6 96.1C126.7 93.7 130.2 89.2 132.4 86.7C134.6 84.1 137.1 82.4 139.7 80.8C142.4 79.2 145.3 78.1 148.5 77.2C151.7 76.2 155.3 75.8 158.7 75C162.1 74.1 166.3 73.3 168.9 72.1C171.6 70.8 173.6 69.6 174.8 67.7C176 65.7 176.7 62.6 176.2 60.4C175.7 58.2 174 56.3 171.9 54.3C169.7 52.4 166 50.4 163.1 48.5C160.2 46.5 156.8 45.1 154.3 42.7C151.9 40.2 150.1 36.9 148.5 33.9C146.9 30.9 145.2 26.4 144.6 24.8"/><path stroke="#d6001f" d="M66.2 22.2L67.7 27.3"/><path stroke="#b2182b" d="M98.1 24.8C98.6 26.4 99.8 30.9 101 33.9C102.2 36.9 103.7 39.7 105.4 42.7C107.1 45.6 109.3 48.7 111.2 51.4C113.2 54.1 115.5 56.9 117.1 58.7C118.6 60.5 118.7 61 120.8 62.4C122.8 63.7 126.4 65.4 129.5 66.7C132.7 68.1 136.3 69.8 139.7 70.4C143.1 71 146.8 70.9 150 70.4C153.1 69.9 156.9 68.7 158.7 67.5C160.5 66.3 161.4 64.8 160.9 63.1C160.4 61.4 157.9 59.4 155.8 57.3C153.7 55.1 150.9 52.6 148.5 50C146.1 47.3 143 43.9 141.2 41.2C139.4 38.5 138.4 36.5 137.5 33.9C136.6 31.3 136.1 26.8 135.8 25.4"/><path stroke="#67001f" d="M108.3 25.4C108.4 27.1 108.3 32.2 109 35.4C109.8 38.5 111.1 41.7 112.7 44.1C114.3 46.5 116.6 48.9 118.5 50C120.5 51.1 123.4 50.6 124.4 50.7C125.3 50.8 123.9 51.5 124.4 50.7C124.9 49.8 127.1 48.1 127.3 45.6C127.6 43 126.4 38.7 125.9 35.4C125.3 32 124.4 27.1 124.1 25.4"/><path stroke="#f4a582" d="M151.1 24.1C151.9 25.3 153.8 28.9 155.8 31C157.8 33.1 160.4 34.9 163.1 36.8C165.8 38.8 169.2 40.5 171.9 42.7C174.5 44.8 177.2 47.3 179.2 50C181.1 52.6 182.6 55.8 183.5 58.7C184.5 61.6 185.2 64.6 185 67.5C184.7 70.4 183.8 73.7 182.1 76.2C180.4 78.8 177.5 81.3 174.8 82.8C172.1 84.3 168.9 84.9 166 85C163.1 85.1 159.9 83.7 157.3 83.4C154.6 83.2 152.3 83.2 150 83.7C147.6 84.3 144.8 85.3 143.4 86.7C141.9 88 141.3 89.6 141.2 91.8C141.1 94 142 97.5 142.7 99.8C143.3 102.1 144.4 103.2 144.8 105.6C145.3 108.1 146.2 111.7 145.6 114.4C145 117.1 143.1 119.5 141.2 121.7C139.3 123.9 136.6 125.6 133.9 127.5C131.2 129.5 128.1 131.5 125.1 133.4C122.2 135.2 119.1 137 116.4 138.5C113.7 139.9 110.3 141.5 109.1 142.1"/><path stroke="#c9e0ef" d="M155.5 24C156.8 25.1 160.4 28.8 163.1 31C165.8 33.1 169.4 35.2 171.9 36.8C174.3 38.4 175.9 39.5 177.7 40.5C179.5 41.4 182 42.3 182.8 42.7"/><path stroke="#92c5e0" d="M158.4 23.4C159.7 24.4 163.3 27.6 166 29.5C168.7 31.4 172.1 33.2 174.8 34.6C177.5 36 180.9 37.3 182.1 37.8"/><path stroke="#7ab8dc" d="M161.6 22.5C162.9 23.4 166.5 26.2 168.9 27.8C171.4 29.3 174.2 30.7 176.2 31.7C178.3 32.7 180.2 33.3 181.1 33.6"/><path stroke="#62a8d3" d="M164.8 21.6C165.9 22.3 169.1 24.7 171.1 25.9C173.1 27 175.5 27.7 177 28.4C178.4 29 179.4 29.3 179.9 29.5"/><path stroke="#3587c4" d="M168.2 20.5C169.1 21 171.6 22.6 173.3 23.4C175 24.2 177.6 25.1 178.4 25.4"/><path stroke="#2166ac" d="M171.1 19.3C171.7 19.6 173.8 20.6 174.8 21.1C175.7 21.5 176.6 21.8 177 21.9"/><path stroke="#d6001f" d="M42.3 94.4C43.6 95.1 47.2 97.2 49.9 98.3C52.6 99.5 55.5 100.9 58.7 101.3C61.8 101.6 65.7 101 68.9 100.5C72 100 75.4 98.8 77.6 98.3C79.9 97.8 81.4 96.9 82.3 97.6C83.2 98.3 83.2 100.6 83.2 102.7C83.1 104.8 83.4 106.9 82 110C80.6 113.2 77.1 118.8 74.7 121.7C72.3 124.6 70.1 125.8 67.4 127.5C64.7 129.2 61.6 130.4 58.7 131.9C55.7 133.4 51.1 135.8 49.6 136.6"/><path stroke="#b2182b" d="M40.1 100.2C41.3 100.9 44.6 102.9 47 104.2C49.3 105.4 51.8 106.9 54.3 107.8C56.7 108.8 59.3 109.5 61.6 110C63.9 110.6 67.3 109.7 68.1 111.2C69 112.6 68.5 116.3 66.7 118.8C64.9 121.3 60 124.2 57.2 126.1C54.4 127.9 52.6 128.4 49.9 129.7C47.2 131 42.4 133.1 40.8 133.8"/><path stroke="#67001f" d="M37.9 105.6C38.9 107.1 43.3 111.7 44.1 114.4C44.8 117.1 43.8 119.7 42.6 121.7C41.4 123.6 38.6 124.8 36.8 126.1C34.9 127.3 32.5 128.7 31.6 129.3"/><path stroke="#d6001f" d="M94.4 131.9C94.5 131.3 100.1 126.7 101 126.1C101.9 125.4 107.4 122.6 108.3 122.4C109.2 122.2 113.9 122.7 114.1 123.2C114.4 123.6 112.4 129 111.9 129.7C111.5 130.5 107.7 133.8 106.8 134.1C106 134.4 100.4 135 99.5 134.8C98.7 134.7 94.3 132.5 94.4 131.9Z"/><path stroke="#f4a582" d="M58.7 138C59.9 137.5 63.5 135.6 66 134.8C68.4 134.1 71.3 133.3 73.3 133.4C75.2 133.5 76.2 134.3 77.6 135.6C79.1 136.8 80.6 139.3 82 140.7C83.4 142.1 85.4 143.5 86.1 144"/><path stroke="#c9e0ef" d="M195.9 94C194.1 94.4 188 95.9 185 96.9C182 97.8 179.9 98.8 177.7 99.8C175.5 100.8 173.8 101.6 171.9 102.7C169.9 103.9 167.9 104.2 165.7 106.7C163.5 109.1 159.5 114.1 158.7 117.3C157.9 120.5 160.2 123.2 160.9 126.1C161.6 129 163.1 132 163.1 134.8C163.1 137.7 161.4 141.8 161.1 143.2"/><path stroke="#7ab8dc" d="M200.3 97.9C198.7 98.1 193.6 98.3 190.8 99.1C188 99.9 185.7 101.1 183.5 102.7C181.3 104.3 179 106.1 177.7 108.6C176.4 111 175.7 114.4 175.5 117.3C175.3 120.2 176 123.2 176.2 126.1C176.5 129 177.3 132.2 177 134.8C176.6 137.4 174.7 140.5 174.2 141.7"/><path stroke="#62a8d3" d="M201.8 102.3C200.4 102.4 196.1 102 193.8 102.7C191.4 103.4 189.5 104.7 187.9 106.4C186.3 108.1 185 110.4 184.3 112.9C183.5 115.5 183.4 118.8 183.5 121.7C183.7 124.6 184.6 127.6 185 130.5C185.4 133.3 185.8 137.4 186 138.8"/><path stroke="#2166ac" d="M203.2 106.7C202.1 106.7 198.6 106.3 196.7 107.1C194.7 107.9 192.7 109.5 191.6 111.5C190.5 113.4 190 116.1 190.1 118.8C190.2 121.5 191.1 124.8 192.3 127.5C193.5 130.3 196.5 134 197.4 135.3"/><path stroke="#08306b" d="M204.7 111.8C203.8 112.1 200.7 112.5 199.6 113.7C198.5 114.8 197.9 117.1 198.1 118.8C198.4 120.5 199.2 122.4 201.1 123.9C202.9 125.3 207.7 126.9 209.1 127.5"/><path stroke="#c9e0ef" d="M117.1 143.6C118.7 143.3 123.8 142.3 126.6 142.1C129.4 141.9 131.7 142 133.9 142.4C136.1 142.9 138.8 144.4 139.7 144.8"/></g>
<g class="er"><path d="M66.5 40.1L88.7 46.1"/><path d="M65.8 44.8L88 50.7"/><path d="M91.9 47.9L99.8 69.5"/><path d="M104.9 58.8L114.6 79.6"/><path d="M110.4 50.2L125.2 67.8"/><path d="M78.4 121.1L86.2 99.5"/><path d="M60.9 128.7L72.4 108.8"/><path d="M115.9 100.8L118.7 123.6"/><path d="M141.4 107L145.4 84.4"/><path d="M158.3 115.5L173.1 97.8"/></g>
</g>
<use href="#frame"/>
<g clip-path="url(#fr)"><g mask="url(#frm)"><use href="#c12"/></g>
<g class="cl"><text transform="translate(77.6 43.1) rotate(15)" y="3.3">1014</text><text transform="translate(76.9 47.8) rotate(15)" y="3.3">1012</text><text transform="translate(95.9 58.7) rotate(70)" y="3.3">1016</text><text transform="translate(109.8 69.2) rotate(65)" y="3.3">1018</text><text transform="translate(117.8 59) rotate(50)" y="3.3">1022</text><text transform="translate(82.3 110.3) rotate(-70)" y="3.3">1020</text><text transform="translate(66.7 118.8) rotate(-60)" y="3.3">1022</text><text transform="translate(117.3 112.2) rotate(83)" y="3.3">1020</text><text transform="translate(143.4 95.7) rotate(-80)" y="3.3">1018</text><text transform="translate(165.7 106.7) rotate(-50)" y="3.3">1016</text></g>
</g>
</g>
</svg></body></html>
